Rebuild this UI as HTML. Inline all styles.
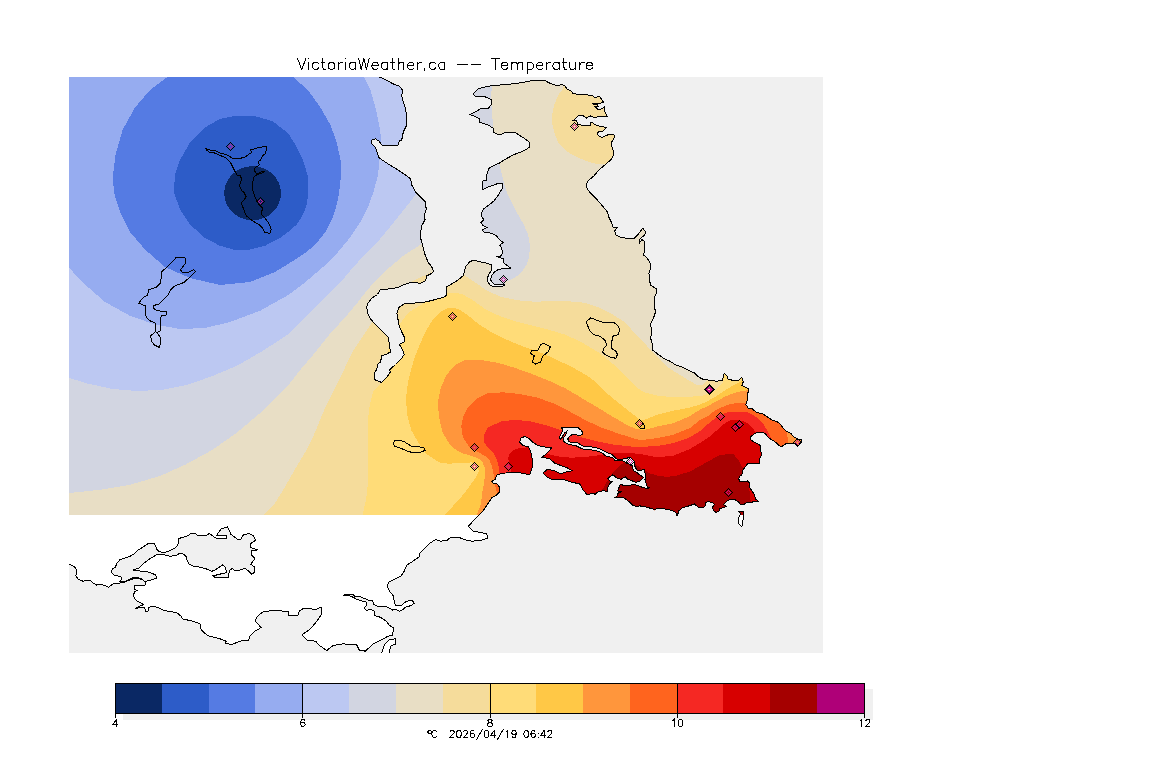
<!DOCTYPE html><html><head><meta charset="utf-8"><title>VictoriaWeather.ca Temperature</title>
<style>html,body{margin:0;padding:0;background:#fff}body{width:1152px;height:768px;overflow:hidden;font-family:"Liberation Sans",sans-serif}svg{display:block}text{font-family:"Liberation Sans",sans-serif;fill:#000}</style></head><body>
<svg width="1152" height="768" viewBox="0 0 1152 768" shape-rendering="crispEdges">
<defs>
<clipPath id="land"><polygon points="69.0,77.0 379.2,77.0 385.5,79.5 393.0,83.8 399.2,86.2 402.5,90.0 401.8,96.2 403.5,102.5 405.5,108.8 406.8,117.5 406.8,125.0 404.2,130.0 402.5,135.0 401.8,140.0 399.2,141.2 398.0,145.0 381.8,145.0 379.2,141.2 375.5,138.8 371.8,140.0 371.8,143.8 375.5,147.5 377.5,153.8 379.2,158.0 388.0,163.8 398.0,170.0 405.5,175.0 410.5,178.8 411.8,185.0 415.5,192.0 420.5,197.0 425.5,202.0 426.2,209.5 424.2,215.8 425.0,219.5 421.8,225.8 420.5,233.2 421.0,239.5 423.0,247.0 425.0,254.5 428.0,262.0 431.8,267.0 433.5,271.5 430.5,274.0 426.8,275.8 425.5,280.8 420.5,283.2 410.5,282.5 403.0,285.0 398.0,287.5 388.0,289.0 380.0,290.0 377.5,294.5 371.8,298.2 368.0,303.2 366.8,307.0 367.5,313.2 370.0,318.2 374.2,323.2 379.2,328.2 384.2,333.2 388.0,337.0 389.2,343.2 390.5,352.0 386.8,354.0 381.8,355.8 380.5,362.0 377.5,364.5 376.8,369.5 374.2,373.2 374.2,379.5 381.8,382.5 386.8,377.0 390.5,372.0 389.2,370.0 395.5,364.5 401.8,358.2 404.2,354.5 401.8,348.2 399.2,344.5 404.2,342.0 404.2,337.0 401.8,332.0 399.2,325.8 398.0,319.5 396.8,313.2 399.2,307.0 404.2,304.0 413.0,303.2 425.5,302.0 435.5,299.5 444.2,297.0 446.8,295.0 446.0,287.0 453.0,283.2 458.0,280.0 463.0,275.8 464.0,273.3 465.7,266.7 469.8,261.7 474.0,260.0 480.7,262.0 487.3,263.3 491.5,265.0 492.0,269.2 489.0,274.2 487.3,278.3 488.2,282.5 490.7,285.8 497.3,287.0 504.0,285.8 504.0,284.2 499.8,284.7 494.0,284.2 490.7,280.0 491.5,275.8 494.8,271.7 499.0,269.2 504.0,268.7 510.7,268.0 506.5,265.0 503.2,262.5 504.0,259.2 497.3,256.7 501.5,255.8 502.7,252.5 501.5,248.3 499.8,245.0 503.2,242.5 499.8,240.0 496.5,235.8 491.5,233.3 484.0,232.0 482.3,230.0 487.3,227.5 483.2,225.8 480.7,222.5 484.0,220.0 482.3,217.5 481.0,214.2 483.2,209.2 489.0,205.0 494.0,200.8 499.0,194.2 502.7,187.5 502.7,183.3 497.3,183.7 489.0,186.7 482.3,190.0 482.3,181.3 486.5,180.0 486.5,175.0 489.0,168.3 493.2,165.8 499.0,163.3 504.0,160.0 513.0,155.0 523.0,151.2 529.2,147.5 529.2,142.0 523.0,137.5 514.2,132.0 505.5,132.5 499.2,135.0 493.5,132.5 493.0,128.0 488.0,125.0 480.0,122.5 479.2,118.8 474.2,116.2 470.0,114.5 474.2,112.5 480.5,108.8 488.0,108.8 491.0,105.0 491.8,100.0 485.5,97.0 475.5,96.2 473.0,94.0 478.0,88.8 488.0,86.2 500.5,85.0 513.0,83.8 523.0,82.5 531.8,80.5 545.5,80.5 548.3,82.5 553.3,84.6 558.0,86.0 561.7,84.0 565.0,86.2 567.5,89.6 570.8,90.4 573.3,93.8 579.2,94.2 585.8,94.8 592.5,95.4 594.6,97.9 599.2,96.0 601.7,99.6 603.8,102.5 600.0,103.3 592.5,103.8 597.5,105.0 598.3,106.2 595.0,106.7 598.3,110.0 601.7,108.8 604.6,107.0 604.8,111.7 607.5,116.7 602.5,116.7 597.5,117.0 593.3,117.3 590.0,115.8 586.7,118.2 583.3,115.8 578.3,115.8 575.0,118.8 573.3,120.4 576.7,120.8 577.9,124.2 580.8,125.0 583.3,125.8 590.0,125.8 590.8,122.5 592.9,122.5 594.2,124.6 598.3,125.8 606.7,127.5 604.2,130.0 602.5,131.2 598.3,132.0 597.5,133.3 598.3,135.8 601.7,137.5 605.8,135.8 609.2,134.3 613.8,134.6 614.6,137.5 612.5,140.4 611.0,143.8 613.0,150.0 613.5,155.0 610.7,160.0 605.7,164.2 599.0,170.0 594.0,175.8 588.2,180.8 586.0,185.0 587.3,189.2 592.3,195.0 597.3,200.0 602.3,205.8 607.3,211.7 609.0,217.5 611.5,222.5 613.2,227.5 617.3,227.5 614.8,230.8 615.7,235.0 620.7,237.5 627.3,238.3 634.0,238.3 639.0,233.3 642.7,228.3 645.7,231.7 644.8,235.0 641.5,237.5 639.0,240.0 639.3,243.3 642.0,239.5 644.8,241.7 644.8,246.7 643.7,255.0 647.3,258.3 650.3,263.3 650.7,268.3 649.0,273.3 649.3,280.0 650.8,285.3 656.3,288.7 656.3,293.7 654.7,297.0 654.2,305.3 655.5,312.0 653.3,318.7 650.8,323.7 651.3,332.0 650.8,338.7 652.5,345.3 653.0,350.3 658.3,354.5 664.2,358.7 670.0,361.2 675.0,364.5 681.7,367.0 688.3,370.3 694.2,372.8 698.3,376.7 703.3,379.5 710.0,380.3 716.7,381.2 722.5,380.3 724.2,373.7 726.7,375.3 728.3,379.5 733.3,380.3 739.2,380.0 741.7,377.3 743.3,382.0 741.7,385.3 745.0,387.2 748.3,388.4 748.3,392.3 747.0,394.0 747.2,399.0 746.8,402.5 745.6,404.6 747.2,406.5 748.0,408.2 752.2,408.4 753.4,410.2 756.7,412.3 763.3,414.0 766.7,416.5 771.7,419.8 776.7,421.5 780.0,424.0 783.3,428.2 786.7,431.5 790.8,433.2 793.3,436.5 797.5,439.0 800.8,439.0 801.7,441.5 798.3,445.7 795.8,444.0 790.0,443.2 786.7,443.2 781.7,446.5 779.2,445.7 775.8,442.3 771.7,439.8 768.3,437.3 765.0,433.2 760.0,432.3 755.0,433.2 750.8,436.5 750.0,439.0 753.3,441.5 756.7,443.2 760.8,445.7 760.0,449.0 761.7,454.0 760.0,458.2 759.2,463.2 753.3,463.7 748.3,463.2 747.5,464.0 745.6,466.5 743.1,469.6 741.9,474.6 739.4,476.5 738.8,479.0 740.0,481.5 743.8,481.5 747.5,480.9 749.4,482.8 750.0,487.8 751.9,490.9 754.4,494.6 755.6,499.0 758.1,501.2 753.8,501.5 750.0,503.0 746.2,502.8 743.8,504.6 740.0,504.0 738.8,502.1 735.0,499.6 729.4,499.6 726.2,501.5 723.8,504.6 726.2,506.5 723.1,507.8 719.4,508.4 718.8,511.8 715.6,512.1 713.8,510.9 712.5,507.1 714.4,504.6 712.5,502.8 708.1,501.5 705.6,502.8 705.0,506.5 701.2,508.0 698.1,507.1 694.4,504.0 688.8,505.9 682.5,507.8 678.8,510.9 678.1,513.4 676.9,515.9 675.6,512.1 671.2,510.2 665.0,509.0 656.2,508.4 655.0,510.2 652.5,508.8 646.2,507.1 640.0,505.9 636.2,506.3 632.8,505.5 630.3,502.6 627.0,500.0 623.7,498.0 619.5,497.2 614.5,497.6 617.0,496.3 617.8,493.4 620.8,491.8 617.4,490.9 618.7,488.8 619.5,485.5 621.2,484.2 623.7,485.9 628.7,485.5 632.8,484.7 635.3,484.7 638.7,485.9 642.0,487.2 645.3,488.2 649.5,488.0 647.4,487.2 646.2,483.8 645.0,479.7 645.3,476.8 645.0,473.0 644.5,469.5 642.0,470.0 637.0,470.0 635.3,467.2 634.0,463.8 634.5,461.3 632.3,459.3 630.2,457.2 627.3,458.1 624.0,458.9 621.5,459.3 618.2,459.3 615.7,458.5 613.6,456.0 611.5,454.3 607.3,452.7 604.0,451.0 600.7,449.3 595.7,447.7 590.7,446.8 584.0,446.8 580.7,444.8 577.3,442.7 572.3,442.7 569.0,441.8 567.8,438.9 569.8,436.0 572.3,434.5 579.0,435.2 582.3,434.8 582.3,431.8 580.7,429.8 577.3,427.2 561.9,427.7 562.3,430.6 561.5,433.5 559.8,436.0 559.4,438.1 560.2,439.3 561.9,437.7 563.2,435.2 564.8,432.7 566.9,431.4 565.7,434.8 563.6,437.7 563.2,440.2 564.4,442.2 568.2,444.3 572.3,445.1 576.5,446.0 580.7,448.1 584.8,449.7 590.7,449.7 595.7,450.6 599.8,451.8 603.2,453.5 604.8,455.6 609.0,456.8 613.2,458.1 614.8,460.1 617.3,460.2 621.5,460.2 624.0,461.4 627.3,463.5 630.7,464.8 632.0,465.5 632.8,468.4 633.7,470.9 637.0,472.6 639.5,474.7 642.0,476.3 643.7,477.6 641.2,479.7 639.5,481.8 635.3,482.2 631.2,480.5 627.0,478.8 625.3,476.8 621.2,479.2 617.8,478.8 615.3,476.8 612.8,474.7 609.9,476.8 607.8,478.8 609.9,480.9 612.4,481.8 610.3,483.0 608.2,485.9 607.8,488.8 607.0,491.8 603.7,490.5 601.2,491.3 597.0,492.2 595.3,494.2 592.0,493.4 587.2,494.8 583.0,489.8 579.7,484.0 571.3,482.0 564.7,479.8 558.0,479.0 551.3,479.3 546.3,476.5 543.0,473.2 547.2,469.3 554.7,470.7 561.3,474.0 564.7,472.3 572.2,470.7 568.0,468.2 561.3,465.7 554.7,463.2 549.7,458.7 542.2,457.3 548.0,452.3 552.2,447.0 544.7,447.0 538.0,445.7 533.0,442.3 528.8,438.2 524.7,436.5 520.5,438.2 519.7,442.3 523.0,445.7 528.0,446.5 530.5,450.7 532.2,459.0 533.0,465.7 531.0,470.7 529.7,474.8 523.0,473.2 514.7,472.3 503.0,473.2 496.3,475.3 495.5,479.0 491.7,481.5 493.0,483.2 497.2,484.0 499.7,487.3 499.3,492.3 496.3,495.3 492.2,497.3 488.8,502.3 485.5,507.3 482.2,512.0 479.2,515.0 473.0,521.2 468.5,526.2 473.0,531.2 480.5,532.5 486.8,533.8 487.5,538.0 480.5,540.5 471.8,541.2 465.5,540.0 460.5,538.0 450.5,537.5 446.8,540.5 440.5,541.2 435.5,539.5 429.2,543.8 424.2,548.8 419.2,553.8 420.0,556.2 413.0,561.2 406.8,565.0 404.2,571.2 401.0,576.0 389.3,581.8 387.2,586.0 389.3,591.0 393.5,596.0 394.3,602.7 396.0,605.6 401.8,605.2 406.0,601.4 411.8,600.2 414.3,603.1 411.0,605.6 405.2,607.2 403.5,609.3 399.3,611.4 396.0,609.3 392.7,610.2 389.3,608.1 386.0,606.4 377.7,606.4 373.5,604.3 372.7,600.6 369.3,600.6 363.5,598.1 359.3,596.4 354.3,596.0 353.1,594.3 345.2,594.3 344.3,595.3 351.0,596.2 356.8,599.3 361.8,601.0 366.4,602.2 366.7,605.6 364.3,607.7 366.0,610.2 370.2,609.8 373.9,610.2 374.8,615.6 380.2,617.2 386.0,621.0 389.3,625.2 393.5,628.1 392.7,635.2 387.7,636.4 381.4,639.8 373.0,643.8 365.5,651.2 359.2,650.0 356.8,645.0 343.0,643.8 333.0,645.5 326.8,650.5 320.5,646.2 315.5,641.2 306.8,640.0 301.8,635.0 310.5,628.8 316.8,621.2 321.8,613.8 321.8,607.0 315.5,609.5 304.2,608.0 299.2,611.2 298.0,615.0 288.0,615.0 288.0,611.2 275.0,610.8 263.8,611.2 257.5,616.2 255.0,621.2 261.2,627.5 255.0,631.2 250.0,636.2 248.8,640.0 240.0,641.2 232.5,644.2 225.0,643.8 226.2,641.2 220.0,638.8 207.5,635.5 201.2,630.0 200.0,623.8 192.5,621.2 182.5,618.8 180.9,616.0 176.5,612.5 170.2,611.5 164.0,610.6 159.0,608.1 155.2,606.5 152.1,606.2 149.0,607.5 148.0,611.2 145.9,611.2 144.6,607.8 140.2,607.5 135.5,608.5 139.0,606.2 143.4,604.8 141.5,603.1 137.1,601.2 134.6,598.8 133.4,595.0 134.6,591.9 137.1,590.6 134.6,589.4 134.6,585.6 139.0,585.2 145.2,585.0 145.9,583.1 144.6,581.9 142.8,579.4 138.4,577.8 132.1,577.8 129.0,579.4 124.0,582.5 119.0,583.1 113.4,583.5 110.9,585.6 108.4,587.2 102.8,584.8 99.6,584.1 96.5,585.0 93.4,583.1 90.2,580.5 87.1,580.2 82.8,581.2 77.8,578.8 75.9,575.6 76.5,571.2 75.9,568.1 72.8,565.6 69.0,564.0 69.0,564.0"/><polygon points="738.8,511.5 743.1,511.5 743.5,515.2 742.8,521.5 741.9,526.5 739.4,524.6 738.1,522.1 738.8,517.8 740.6,514.0"/></clipPath>
<clipPath id="dom"><rect x="69" y="77" width="754" height="438"/></clipPath>
<clipPath id="map"><rect x="69" y="77" width="754" height="576"/></clipPath>
</defs>
<rect x="0" y="0" width="1152" height="768" fill="#fff"/>
<rect x="69" y="77" width="754" height="576" fill="#f0f0f0"/>
<g clip-path="url(#map)">
<polygon points="69.0,77.0 379.2,77.0 385.5,79.5 393.0,83.8 399.2,86.2 402.5,90.0 401.8,96.2 403.5,102.5 405.5,108.8 406.8,117.5 406.8,125.0 404.2,130.0 402.5,135.0 401.8,140.0 399.2,141.2 398.0,145.0 381.8,145.0 379.2,141.2 375.5,138.8 371.8,140.0 371.8,143.8 375.5,147.5 377.5,153.8 379.2,158.0 388.0,163.8 398.0,170.0 405.5,175.0 410.5,178.8 411.8,185.0 415.5,192.0 420.5,197.0 425.5,202.0 426.2,209.5 424.2,215.8 425.0,219.5 421.8,225.8 420.5,233.2 421.0,239.5 423.0,247.0 425.0,254.5 428.0,262.0 431.8,267.0 433.5,271.5 430.5,274.0 426.8,275.8 425.5,280.8 420.5,283.2 410.5,282.5 403.0,285.0 398.0,287.5 388.0,289.0 380.0,290.0 377.5,294.5 371.8,298.2 368.0,303.2 366.8,307.0 367.5,313.2 370.0,318.2 374.2,323.2 379.2,328.2 384.2,333.2 388.0,337.0 389.2,343.2 390.5,352.0 386.8,354.0 381.8,355.8 380.5,362.0 377.5,364.5 376.8,369.5 374.2,373.2 374.2,379.5 381.8,382.5 386.8,377.0 390.5,372.0 389.2,370.0 395.5,364.5 401.8,358.2 404.2,354.5 401.8,348.2 399.2,344.5 404.2,342.0 404.2,337.0 401.8,332.0 399.2,325.8 398.0,319.5 396.8,313.2 399.2,307.0 404.2,304.0 413.0,303.2 425.5,302.0 435.5,299.5 444.2,297.0 446.8,295.0 446.0,287.0 453.0,283.2 458.0,280.0 463.0,275.8 464.0,273.3 465.7,266.7 469.8,261.7 474.0,260.0 480.7,262.0 487.3,263.3 491.5,265.0 492.0,269.2 489.0,274.2 487.3,278.3 488.2,282.5 490.7,285.8 497.3,287.0 504.0,285.8 504.0,284.2 499.8,284.7 494.0,284.2 490.7,280.0 491.5,275.8 494.8,271.7 499.0,269.2 504.0,268.7 510.7,268.0 506.5,265.0 503.2,262.5 504.0,259.2 497.3,256.7 501.5,255.8 502.7,252.5 501.5,248.3 499.8,245.0 503.2,242.5 499.8,240.0 496.5,235.8 491.5,233.3 484.0,232.0 482.3,230.0 487.3,227.5 483.2,225.8 480.7,222.5 484.0,220.0 482.3,217.5 481.0,214.2 483.2,209.2 489.0,205.0 494.0,200.8 499.0,194.2 502.7,187.5 502.7,183.3 497.3,183.7 489.0,186.7 482.3,190.0 482.3,181.3 486.5,180.0 486.5,175.0 489.0,168.3 493.2,165.8 499.0,163.3 504.0,160.0 513.0,155.0 523.0,151.2 529.2,147.5 529.2,142.0 523.0,137.5 514.2,132.0 505.5,132.5 499.2,135.0 493.5,132.5 493.0,128.0 488.0,125.0 480.0,122.5 479.2,118.8 474.2,116.2 470.0,114.5 474.2,112.5 480.5,108.8 488.0,108.8 491.0,105.0 491.8,100.0 485.5,97.0 475.5,96.2 473.0,94.0 478.0,88.8 488.0,86.2 500.5,85.0 513.0,83.8 523.0,82.5 531.8,80.5 545.5,80.5 548.3,82.5 553.3,84.6 558.0,86.0 561.7,84.0 565.0,86.2 567.5,89.6 570.8,90.4 573.3,93.8 579.2,94.2 585.8,94.8 592.5,95.4 594.6,97.9 599.2,96.0 601.7,99.6 603.8,102.5 600.0,103.3 592.5,103.8 597.5,105.0 598.3,106.2 595.0,106.7 598.3,110.0 601.7,108.8 604.6,107.0 604.8,111.7 607.5,116.7 602.5,116.7 597.5,117.0 593.3,117.3 590.0,115.8 586.7,118.2 583.3,115.8 578.3,115.8 575.0,118.8 573.3,120.4 576.7,120.8 577.9,124.2 580.8,125.0 583.3,125.8 590.0,125.8 590.8,122.5 592.9,122.5 594.2,124.6 598.3,125.8 606.7,127.5 604.2,130.0 602.5,131.2 598.3,132.0 597.5,133.3 598.3,135.8 601.7,137.5 605.8,135.8 609.2,134.3 613.8,134.6 614.6,137.5 612.5,140.4 611.0,143.8 613.0,150.0 613.5,155.0 610.7,160.0 605.7,164.2 599.0,170.0 594.0,175.8 588.2,180.8 586.0,185.0 587.3,189.2 592.3,195.0 597.3,200.0 602.3,205.8 607.3,211.7 609.0,217.5 611.5,222.5 613.2,227.5 617.3,227.5 614.8,230.8 615.7,235.0 620.7,237.5 627.3,238.3 634.0,238.3 639.0,233.3 642.7,228.3 645.7,231.7 644.8,235.0 641.5,237.5 639.0,240.0 639.3,243.3 642.0,239.5 644.8,241.7 644.8,246.7 643.7,255.0 647.3,258.3 650.3,263.3 650.7,268.3 649.0,273.3 649.3,280.0 650.8,285.3 656.3,288.7 656.3,293.7 654.7,297.0 654.2,305.3 655.5,312.0 653.3,318.7 650.8,323.7 651.3,332.0 650.8,338.7 652.5,345.3 653.0,350.3 658.3,354.5 664.2,358.7 670.0,361.2 675.0,364.5 681.7,367.0 688.3,370.3 694.2,372.8 698.3,376.7 703.3,379.5 710.0,380.3 716.7,381.2 722.5,380.3 724.2,373.7 726.7,375.3 728.3,379.5 733.3,380.3 739.2,380.0 741.7,377.3 743.3,382.0 741.7,385.3 745.0,387.2 748.3,388.4 748.3,392.3 747.0,394.0 747.2,399.0 746.8,402.5 745.6,404.6 747.2,406.5 748.0,408.2 752.2,408.4 753.4,410.2 756.7,412.3 763.3,414.0 766.7,416.5 771.7,419.8 776.7,421.5 780.0,424.0 783.3,428.2 786.7,431.5 790.8,433.2 793.3,436.5 797.5,439.0 800.8,439.0 801.7,441.5 798.3,445.7 795.8,444.0 790.0,443.2 786.7,443.2 781.7,446.5 779.2,445.7 775.8,442.3 771.7,439.8 768.3,437.3 765.0,433.2 760.0,432.3 755.0,433.2 750.8,436.5 750.0,439.0 753.3,441.5 756.7,443.2 760.8,445.7 760.0,449.0 761.7,454.0 760.0,458.2 759.2,463.2 753.3,463.7 748.3,463.2 747.5,464.0 745.6,466.5 743.1,469.6 741.9,474.6 739.4,476.5 738.8,479.0 740.0,481.5 743.8,481.5 747.5,480.9 749.4,482.8 750.0,487.8 751.9,490.9 754.4,494.6 755.6,499.0 758.1,501.2 753.8,501.5 750.0,503.0 746.2,502.8 743.8,504.6 740.0,504.0 738.8,502.1 735.0,499.6 729.4,499.6 726.2,501.5 723.8,504.6 726.2,506.5 723.1,507.8 719.4,508.4 718.8,511.8 715.6,512.1 713.8,510.9 712.5,507.1 714.4,504.6 712.5,502.8 708.1,501.5 705.6,502.8 705.0,506.5 701.2,508.0 698.1,507.1 694.4,504.0 688.8,505.9 682.5,507.8 678.8,510.9 678.1,513.4 676.9,515.9 675.6,512.1 671.2,510.2 665.0,509.0 656.2,508.4 655.0,510.2 652.5,508.8 646.2,507.1 640.0,505.9 636.2,506.3 632.8,505.5 630.3,502.6 627.0,500.0 623.7,498.0 619.5,497.2 614.5,497.6 617.0,496.3 617.8,493.4 620.8,491.8 617.4,490.9 618.7,488.8 619.5,485.5 621.2,484.2 623.7,485.9 628.7,485.5 632.8,484.7 635.3,484.7 638.7,485.9 642.0,487.2 645.3,488.2 649.5,488.0 647.4,487.2 646.2,483.8 645.0,479.7 645.3,476.8 645.0,473.0 644.5,469.5 642.0,470.0 637.0,470.0 635.3,467.2 634.0,463.8 634.5,461.3 632.3,459.3 630.2,457.2 627.3,458.1 624.0,458.9 621.5,459.3 618.2,459.3 615.7,458.5 613.6,456.0 611.5,454.3 607.3,452.7 604.0,451.0 600.7,449.3 595.7,447.7 590.7,446.8 584.0,446.8 580.7,444.8 577.3,442.7 572.3,442.7 569.0,441.8 567.8,438.9 569.8,436.0 572.3,434.5 579.0,435.2 582.3,434.8 582.3,431.8 580.7,429.8 577.3,427.2 561.9,427.7 562.3,430.6 561.5,433.5 559.8,436.0 559.4,438.1 560.2,439.3 561.9,437.7 563.2,435.2 564.8,432.7 566.9,431.4 565.7,434.8 563.6,437.7 563.2,440.2 564.4,442.2 568.2,444.3 572.3,445.1 576.5,446.0 580.7,448.1 584.8,449.7 590.7,449.7 595.7,450.6 599.8,451.8 603.2,453.5 604.8,455.6 609.0,456.8 613.2,458.1 614.8,460.1 617.3,460.2 621.5,460.2 624.0,461.4 627.3,463.5 630.7,464.8 632.0,465.5 632.8,468.4 633.7,470.9 637.0,472.6 639.5,474.7 642.0,476.3 643.7,477.6 641.2,479.7 639.5,481.8 635.3,482.2 631.2,480.5 627.0,478.8 625.3,476.8 621.2,479.2 617.8,478.8 615.3,476.8 612.8,474.7 609.9,476.8 607.8,478.8 609.9,480.9 612.4,481.8 610.3,483.0 608.2,485.9 607.8,488.8 607.0,491.8 603.7,490.5 601.2,491.3 597.0,492.2 595.3,494.2 592.0,493.4 587.2,494.8 583.0,489.8 579.7,484.0 571.3,482.0 564.7,479.8 558.0,479.0 551.3,479.3 546.3,476.5 543.0,473.2 547.2,469.3 554.7,470.7 561.3,474.0 564.7,472.3 572.2,470.7 568.0,468.2 561.3,465.7 554.7,463.2 549.7,458.7 542.2,457.3 548.0,452.3 552.2,447.0 544.7,447.0 538.0,445.7 533.0,442.3 528.8,438.2 524.7,436.5 520.5,438.2 519.7,442.3 523.0,445.7 528.0,446.5 530.5,450.7 532.2,459.0 533.0,465.7 531.0,470.7 529.7,474.8 523.0,473.2 514.7,472.3 503.0,473.2 496.3,475.3 495.5,479.0 491.7,481.5 493.0,483.2 497.2,484.0 499.7,487.3 499.3,492.3 496.3,495.3 492.2,497.3 488.8,502.3 485.5,507.3 482.2,512.0 479.2,515.0 473.0,521.2 468.5,526.2 473.0,531.2 480.5,532.5 486.8,533.8 487.5,538.0 480.5,540.5 471.8,541.2 465.5,540.0 460.5,538.0 450.5,537.5 446.8,540.5 440.5,541.2 435.5,539.5 429.2,543.8 424.2,548.8 419.2,553.8 420.0,556.2 413.0,561.2 406.8,565.0 404.2,571.2 401.0,576.0 389.3,581.8 387.2,586.0 389.3,591.0 393.5,596.0 394.3,602.7 396.0,605.6 401.8,605.2 406.0,601.4 411.8,600.2 414.3,603.1 411.0,605.6 405.2,607.2 403.5,609.3 399.3,611.4 396.0,609.3 392.7,610.2 389.3,608.1 386.0,606.4 377.7,606.4 373.5,604.3 372.7,600.6 369.3,600.6 363.5,598.1 359.3,596.4 354.3,596.0 353.1,594.3 345.2,594.3 344.3,595.3 351.0,596.2 356.8,599.3 361.8,601.0 366.4,602.2 366.7,605.6 364.3,607.7 366.0,610.2 370.2,609.8 373.9,610.2 374.8,615.6 380.2,617.2 386.0,621.0 389.3,625.2 393.5,628.1 392.7,635.2 387.7,636.4 381.4,639.8 373.0,643.8 365.5,651.2 359.2,650.0 356.8,645.0 343.0,643.8 333.0,645.5 326.8,650.5 320.5,646.2 315.5,641.2 306.8,640.0 301.8,635.0 310.5,628.8 316.8,621.2 321.8,613.8 321.8,607.0 315.5,609.5 304.2,608.0 299.2,611.2 298.0,615.0 288.0,615.0 288.0,611.2 275.0,610.8 263.8,611.2 257.5,616.2 255.0,621.2 261.2,627.5 255.0,631.2 250.0,636.2 248.8,640.0 240.0,641.2 232.5,644.2 225.0,643.8 226.2,641.2 220.0,638.8 207.5,635.5 201.2,630.0 200.0,623.8 192.5,621.2 182.5,618.8 180.9,616.0 176.5,612.5 170.2,611.5 164.0,610.6 159.0,608.1 155.2,606.5 152.1,606.2 149.0,607.5 148.0,611.2 145.9,611.2 144.6,607.8 140.2,607.5 135.5,608.5 139.0,606.2 143.4,604.8 141.5,603.1 137.1,601.2 134.6,598.8 133.4,595.0 134.6,591.9 137.1,590.6 134.6,589.4 134.6,585.6 139.0,585.2 145.2,585.0 145.9,583.1 144.6,581.9 142.8,579.4 138.4,577.8 132.1,577.8 129.0,579.4 124.0,582.5 119.0,583.1 113.4,583.5 110.9,585.6 108.4,587.2 102.8,584.8 99.6,584.1 96.5,585.0 93.4,583.1 90.2,580.5 87.1,580.2 82.8,581.2 77.8,578.8 75.9,575.6 76.5,571.2 75.9,568.1 72.8,565.6 69.0,564.0 69.0,564.0" fill="#fff" />
<polygon points="738.8,511.5 743.1,511.5 743.5,515.2 742.8,521.5 741.9,526.5 739.4,524.6 738.1,522.1 738.8,517.8 740.6,514.0" fill="#fff" />
<polygon points="381.8,653.0 384.2,645.0 389.2,640.0 395.5,638.8 396.0,643.8 390.5,646.2 389.2,653.0" fill="#fff" />
<g clip-path="url(#dom)"><g clip-path="url(#land)">
<rect x="69" y="77" width="754" height="438" fill="#e8dec5"/>
<polygon points="60.0,60.0 60.0,493.0 69.2,493.0 100.0,489.8 130.0,484.8 160.0,476.0 185.0,464.8 212.5,449.8 237.5,432.2 262.5,411.0 288.0,385.5 301.3,368.7 315.5,352.0 329.0,335.0 342.7,320.0 348.5,313.5 356.8,303.5 365.2,292.7 374.3,281.8 384.3,271.8 394.3,263.5 403.0,256.0 413.0,249.5 422.5,243.5 440.0,246.0 470.0,250.0 495.0,256.0 500.0,262.0 498.0,267.0 493.5,270.0 490.5,274.0 489.2,278.0 491.0,283.0 497.0,285.8 504.5,284.9 505.7,281.7 512.3,279.2 520.7,273.3 526.5,265.0 529.3,256.7 529.8,245.0 528.2,235.0 524.0,225.0 517.3,213.3 512.3,203.3 507.3,193.3 504.0,183.3 501.5,173.3 499.0,163.3 496.0,150.0 493.0,125.0 491.8,110.0 491.0,100.0 491.8,86.2 492.0,60.0" fill="#d2d5e1" />
<polygon points="60.0,60.0 60.0,378.0 69.2,378.0 87.5,383.5 112.5,389.0 137.5,391.0 162.5,389.8 187.5,384.8 212.5,376.0 237.5,365.5 262.5,351.0 288.0,334.5 305.5,317.0 325.5,297.0 343.0,279.5 352.7,267.7 363.7,256.0 375.5,244.5 388.0,229.5 398.0,217.0 408.0,204.5 416.8,193.2 428.0,180.0 438.0,150.0 442.0,120.0 444.0,60.0" fill="#bcc8f2" />
<polygon points="60.0,60.0 60.0,259.0 69.2,268.0 85.0,284.5 105.0,302.0 130.0,315.8 155.0,324.5 180.0,329.0 205.0,328.0 230.0,322.0 260.0,310.8 288.0,295.2 305.5,282.0 323.0,267.0 338.0,252.0 350.5,237.0 360.5,222.0 368.0,207.0 373.5,192.0 378.0,175.0 379.5,160.0 381.0,137.5 379.2,125.0 375.5,107.5 370.5,90.0 364.2,77.0 361.0,60.0" fill="#96acf0" />
<polygon points="179.0,60.0 167.5,77.0 150.0,90.0 135.0,107.5 122.5,130.0 115.5,155.0 113.0,175.0 113.8,192.0 120.0,212.0 130.0,232.0 145.0,249.5 165.0,267.0 190.0,278.0 220.0,285.0 250.0,282.0 275.0,272.0 288.0,264.0 303.0,254.5 315.5,244.5 325.5,232.0 333.0,217.0 336.8,204.5 339.2,192.0 341.0,175.0 340.5,160.0 336.8,142.5 330.5,125.0 320.5,107.5 308.0,90.0 293.0,77.0 278.0,60.0" fill="#557be3" />
<polygon points="237.5,115.5 220.0,118.8 205.0,127.5 190.0,142.5 180.0,160.0 175.0,175.0 173.8,192.0 180.0,209.5 190.0,224.5 205.0,238.0 220.0,245.8 235.0,250.0 250.0,249.5 265.0,245.8 280.0,238.0 288.0,232.0 296.8,224.5 303.0,214.5 306.8,204.5 308.5,192.0 307.5,175.0 303.0,160.0 295.5,145.0 288.0,133.0 272.5,121.2 255.0,116.2" fill="#2d5cc8" />
<ellipse cx="252.6" cy="193.2" rx="28.4" ry="27.0" fill="#0a2864"/>
<polygon points="263.8,520.0 263.8,514.8 275.0,503.0 283.3,489.7 290.0,478.0 296.7,466.3 306.7,449.7 313.3,436.3 324.7,408.7 333.0,392.0 343.0,372.0 346.8,363.3 352.7,351.7 361.0,339.2 367.7,329.2 372.7,321.7 385.0,305.0 402.7,286.0 412.7,281.0 423.5,276.0 432.0,272.2 448.0,271.0 464.7,275.3 474.7,282.0 486.3,290.3 501.3,297.0 518.0,300.3 534.7,301.7 551.3,301.2 568.0,301.2 584.7,302.8 598.0,307.0 611.3,313.7 624.7,322.0 633.7,332.0 640.3,338.7 648.7,347.8 657.0,357.0 665.3,365.3 673.7,371.2 682.0,376.2 690.3,381.2 697.0,384.9 702.8,385.3 705.3,382.0 707.0,380.8 708.0,379.0 708.0,365.0 830.0,365.0 830.0,520.0" fill="#f5dc9b" />
<polygon points="566.0,78.0 563.3,88.3 558.3,95.0 554.2,105.0 552.0,115.0 552.5,125.0 555.0,135.0 559.0,144.0 565.0,150.0 572.0,154.5 580.0,158.5 590.0,162.3 599.0,164.5 607.0,163.5 630.0,150.0 630.0,78.0" fill="#f5dc9b" />
<polygon points="362.5,520.0 362.5,515.0 366.0,500.0 368.3,480.0 368.0,452.0 367.7,435.3 368.0,418.7 369.7,405.3 373.0,392.0 381.3,382.8 384.0,365.0 389.0,347.0 397.7,325.8 400.2,323.3 405.2,316.7 411.0,311.0 419.3,306.0 427.7,301.0 437.0,296.0 448.0,292.5 461.3,293.7 473.0,300.3 484.7,308.7 498.0,315.3 514.7,321.2 531.3,325.3 548.0,329.5 564.7,334.5 581.3,342.0 598.0,352.0 614.7,365.3 628.0,378.7 636.0,387.0 643.3,392.0 660.0,396.2 676.7,397.0 693.3,396.5 700.0,396.2 706.2,394.6 712.5,392.1 717.5,388.3 721.7,384.2 723.3,381.7 721.0,365.0 830.0,365.0 830.0,520.0" fill="#ffdc78" />
<polygon points="445.0,520.0 445.0,514.5 453.0,506.0 462.0,496.0 465.3,492.0 469.5,486.2 473.7,480.3 477.0,475.3 478.7,471.2 478.2,467.0 475.3,463.7 471.2,462.4 465.3,462.8 457.0,463.2 448.7,463.7 440.3,462.8 432.0,457.8 426.3,453.7 418.0,442.0 411.3,430.3 407.2,415.3 406.0,398.7 408.0,382.0 411.5,368.0 414.5,358.0 416.8,351.7 421.0,341.7 426.0,330.8 432.0,320.8 440.0,312.0 448.0,307.8 458.0,308.7 468.0,315.3 478.0,323.7 491.3,332.0 508.0,340.3 524.7,347.0 541.3,352.8 558.0,360.3 574.7,368.5 587.8,376.0 595.3,381.8 603.7,390.2 612.0,397.7 620.3,404.3 628.7,411.0 635.3,416.0 639.5,419.5 643.7,420.2 648.0,418.5 656.7,414.8 673.3,410.7 690.0,407.5 700.0,404.6 708.3,400.8 716.7,395.8 725.0,390.4 733.3,385.4 741.7,381.2 745.0,370.0 830.0,370.0 830.0,520.0" fill="#ffc846" />
<polygon points="476.8,520.0 476.8,515.0 480.5,505.0 482.0,496.0 482.4,492.0 483.7,485.3 484.5,478.7 484.9,472.0 484.5,467.0 482.8,462.8 479.5,459.5 474.5,457.0 467.8,454.9 461.2,452.8 454.5,448.7 448.7,442.8 445.3,437.0 442.4,432.0 440.5,424.0 438.8,415.3 438.0,402.0 440.5,388.7 446.3,375.3 454.7,365.3 464.7,360.3 481.3,360.0 498.0,362.8 514.7,367.8 531.3,373.7 548.0,380.3 564.7,388.0 577.0,395.2 585.3,400.2 593.7,405.2 602.0,410.2 610.3,415.2 618.7,420.2 627.0,425.2 635.3,428.5 642.0,429.8 648.0,429.3 656.7,426.5 673.3,423.2 690.0,416.0 700.0,409.6 708.3,405.8 716.7,401.2 725.0,396.7 733.3,393.3 741.7,391.2 746.7,390.4 830.0,390.0 830.0,520.0" fill="#ff963c" />
<polygon points="498.0,520.0 497.5,495.0 495.3,486.2 494.5,480.0 494.0,477.0 493.2,471.2 491.6,465.3 489.5,460.3 485.3,456.2 479.5,452.8 473.7,449.9 468.7,446.2 465.3,441.2 462.8,436.2 462.0,432.0 461.3,425.7 463.0,417.3 468.0,407.3 476.3,399.0 488.0,393.2 503.0,392.3 519.7,394.0 536.3,397.3 553.0,403.2 569.7,411.5 586.3,420.7 603.0,428.2 619.7,434.0 640.0,440.2 656.7,438.2 673.3,434.8 690.0,428.0 700.0,420.0 708.0,416.1 714.2,411.1 720.5,407.8 726.8,405.2 731.3,404.0 737.5,402.9 745.8,402.9 770.0,404.0 786.7,428.0 787.5,437.3 788.3,445.0 788.0,520.0" fill="#ff641e" />
<polygon points="500.0,520.0 499.0,472.8 498.7,467.0 497.0,460.3 494.5,454.5 491.2,450.3 487.0,446.2 484.0,442.0 483.7,437.0 485.3,432.0 487.5,428.0 491.3,425.7 501.3,421.5 514.7,419.8 531.3,421.5 548.0,425.7 564.7,431.5 581.3,437.3 598.0,441.5 614.7,444.8 631.3,446.5 640.0,447.0 656.7,446.0 673.3,443.2 690.0,437.3 700.0,431.0 708.0,424.0 712.2,420.7 716.3,417.3 722.6,414.0 728.0,412.3 737.2,412.1 747.6,412.3 751.8,414.4 756.7,417.3 763.3,424.0 768.3,432.3 771.7,439.8 772.0,520.0" fill="#f52823" />
<polygon points="511.5,520.0 511.2,471.2 510.3,467.0 508.7,462.0 508.2,457.8 509.5,453.7 513.7,449.9 520.3,447.8 528.0,447.4 537.0,449.5 544.0,452.7 552.3,455.2 560.7,456.8 570.7,457.7 581.5,457.2 594.0,456.0 602.3,454.8 610.7,453.5 617.3,452.7 627.3,452.7 640.0,454.0 656.7,457.3 673.3,455.7 690.0,449.0 700.0,443.0 710.5,436.0 716.3,430.7 722.6,425.2 726.8,421.9 730.5,420.0 737.2,420.0 745.5,421.9 749.7,424.8 753.8,429.8 756.0,433.2 768.0,445.0 768.0,520.0" fill="#d70000" />
<polygon points="600.0,520.0 601.0,491.0 602.8,488.8 607.0,481.3 612.8,473.0 618.7,466.3 623.7,463.0 635.3,463.8 642.0,469.0 650.3,473.5 658.7,476.0 667.0,476.8 675.3,476.0 690.0,471.5 706.7,462.3 720.0,454.8 733.3,454.0 738.3,459.8 742.5,467.3 746.0,476.0 748.3,484.0 750.0,494.0 750.8,503.0 751.0,520.0" fill="#a50000" />
</g></g>
<polygon points="142.8,579.4 139.0,578.8 134.0,578.5 130.2,579.8 125.2,581.5 121.5,581.2 119.6,581.2 121.5,579.4 120.9,576.9 117.8,576.0 114.0,575.0 112.1,573.1 111.5,571.2 112.8,568.8 115.2,567.2 117.1,563.1 119.6,560.0 122.8,558.5 126.5,557.8 130.2,556.2 134.0,553.8 137.8,550.0 141.5,548.1 145.2,545.6 148.4,543.5 151.5,543.1 154.6,544.0 155.9,546.2 156.5,548.8 158.4,551.0 161.5,552.2 165.2,552.2 169.0,551.0 172.8,549.4 175.9,547.2 178.0,544.4 178.4,540.6 179.0,538.5 182.1,537.5 186.5,536.5 189.0,534.8 191.5,533.1 194.6,533.1 197.8,535.6 201.5,536.0 208.0,534.8 209.2,533.3 212.5,535.8 215.8,538.0 226.7,538.0 226.7,535.3 216.7,535.3 220.8,529.2 227.5,527.0 229.2,530.0 230.8,534.2 237.5,539.2 240.8,539.2 243.3,535.0 249.2,533.3 253.3,535.8 255.8,540.0 250.0,544.2 250.8,547.5 257.5,550.0 251.7,550.8 251.7,555.0 255.0,558.3 250.8,564.2 254.2,566.7 254.2,572.5 251.7,574.2 248.3,570.8 245.0,568.3 240.0,570.0 235.0,570.8 232.5,568.3 229.2,570.8 228.7,577.5 215.0,577.5 213.3,575.8 226.7,572.5 225.0,566.7 222.5,565.0 215.0,570.0 211.7,571.3 208.0,569.4 199.0,566.9 192.8,566.0 189.0,563.8 187.1,560.6 186.5,556.9 184.0,554.4 179.6,553.1 176.5,555.6 170.2,556.2 164.0,554.8 157.1,554.4 149.0,559.4 144.0,563.1 139.0,568.1 133.4,570.0 133.4,570.6 140.2,571.0 146.5,571.5 151.5,573.1 155.9,575.0 156.5,578.1 151.5,579.8 146.5,581.2 144.6,581.9" fill="#f0f0f0" />
<polyline points="379.2,77.0 385.5,79.5 393.0,83.8 399.2,86.2 402.5,90.0 401.8,96.2 403.5,102.5 405.5,108.8 406.8,117.5 406.8,125.0 404.2,130.0 402.5,135.0 401.8,140.0 399.2,141.2 398.0,145.0 381.8,145.0 379.2,141.2 375.5,138.8 371.8,140.0 371.8,143.8 375.5,147.5 377.5,153.8 379.2,158.0 388.0,163.8 398.0,170.0 405.5,175.0 410.5,178.8 411.8,185.0 415.5,192.0 420.5,197.0 425.5,202.0 426.2,209.5 424.2,215.8 425.0,219.5 421.8,225.8 420.5,233.2 421.0,239.5 423.0,247.0 425.0,254.5 428.0,262.0 431.8,267.0 433.5,271.5 430.5,274.0 426.8,275.8 425.5,280.8 420.5,283.2 410.5,282.5 403.0,285.0 398.0,287.5 388.0,289.0 380.0,290.0 377.5,294.5 371.8,298.2 368.0,303.2 366.8,307.0 367.5,313.2 370.0,318.2 374.2,323.2 379.2,328.2 384.2,333.2 388.0,337.0 389.2,343.2 390.5,352.0 386.8,354.0 381.8,355.8 380.5,362.0 377.5,364.5 376.8,369.5 374.2,373.2 374.2,379.5 381.8,382.5 386.8,377.0 390.5,372.0 389.2,370.0 395.5,364.5 401.8,358.2 404.2,354.5 401.8,348.2 399.2,344.5 404.2,342.0 404.2,337.0 401.8,332.0 399.2,325.8 398.0,319.5 396.8,313.2 399.2,307.0 404.2,304.0 413.0,303.2 425.5,302.0 435.5,299.5 444.2,297.0 446.8,295.0 446.0,287.0 453.0,283.2 458.0,280.0 463.0,275.8 464.0,273.3 465.7,266.7 469.8,261.7 474.0,260.0 480.7,262.0 487.3,263.3 491.5,265.0 492.0,269.2 489.0,274.2 487.3,278.3 488.2,282.5 490.7,285.8 497.3,287.0 504.0,285.8 504.0,284.2 499.8,284.7 494.0,284.2 490.7,280.0 491.5,275.8 494.8,271.7 499.0,269.2 504.0,268.7 510.7,268.0 506.5,265.0 503.2,262.5 504.0,259.2 497.3,256.7 501.5,255.8 502.7,252.5 501.5,248.3 499.8,245.0 503.2,242.5 499.8,240.0 496.5,235.8 491.5,233.3 484.0,232.0 482.3,230.0 487.3,227.5 483.2,225.8 480.7,222.5 484.0,220.0 482.3,217.5 481.0,214.2 483.2,209.2 489.0,205.0 494.0,200.8 499.0,194.2 502.7,187.5 502.7,183.3 497.3,183.7 489.0,186.7 482.3,190.0 482.3,181.3 486.5,180.0 486.5,175.0 489.0,168.3 493.2,165.8 499.0,163.3 504.0,160.0 513.0,155.0 523.0,151.2 529.2,147.5 529.2,142.0 523.0,137.5 514.2,132.0 505.5,132.5 499.2,135.0 493.5,132.5 493.0,128.0 488.0,125.0 480.0,122.5 479.2,118.8 474.2,116.2 470.0,114.5 474.2,112.5 480.5,108.8 488.0,108.8 491.0,105.0 491.8,100.0 485.5,97.0 475.5,96.2 473.0,94.0 478.0,88.8 488.0,86.2 500.5,85.0 513.0,83.8 523.0,82.5 531.8,80.5 545.5,80.5 548.3,82.5 553.3,84.6 558.0,86.0 561.7,84.0 565.0,86.2 567.5,89.6 570.8,90.4 573.3,93.8 579.2,94.2 585.8,94.8 592.5,95.4 594.6,97.9 599.2,96.0 601.7,99.6 603.8,102.5 600.0,103.3 592.5,103.8 597.5,105.0 598.3,106.2 595.0,106.7 598.3,110.0 601.7,108.8 604.6,107.0 604.8,111.7 607.5,116.7 602.5,116.7 597.5,117.0 593.3,117.3 590.0,115.8 586.7,118.2 583.3,115.8 578.3,115.8 575.0,118.8 573.3,120.4 576.7,120.8 577.9,124.2 580.8,125.0 583.3,125.8 590.0,125.8 590.8,122.5 592.9,122.5 594.2,124.6 598.3,125.8 606.7,127.5 604.2,130.0 602.5,131.2 598.3,132.0 597.5,133.3 598.3,135.8 601.7,137.5 605.8,135.8 609.2,134.3 613.8,134.6 614.6,137.5 612.5,140.4 611.0,143.8 613.0,150.0 613.5,155.0 610.7,160.0 605.7,164.2 599.0,170.0 594.0,175.8 588.2,180.8 586.0,185.0 587.3,189.2 592.3,195.0 597.3,200.0 602.3,205.8 607.3,211.7 609.0,217.5 611.5,222.5 613.2,227.5 617.3,227.5 614.8,230.8 615.7,235.0 620.7,237.5 627.3,238.3 634.0,238.3 639.0,233.3 642.7,228.3 645.7,231.7 644.8,235.0 641.5,237.5 639.0,240.0 639.3,243.3 642.0,239.5 644.8,241.7 644.8,246.7 643.7,255.0 647.3,258.3 650.3,263.3 650.7,268.3 649.0,273.3 649.3,280.0 650.8,285.3 656.3,288.7 656.3,293.7 654.7,297.0 654.2,305.3 655.5,312.0 653.3,318.7 650.8,323.7 651.3,332.0 650.8,338.7 652.5,345.3 653.0,350.3 658.3,354.5 664.2,358.7 670.0,361.2 675.0,364.5 681.7,367.0 688.3,370.3 694.2,372.8 698.3,376.7 703.3,379.5 710.0,380.3 716.7,381.2 722.5,380.3 724.2,373.7 726.7,375.3 728.3,379.5 733.3,380.3 739.2,380.0 741.7,377.3 743.3,382.0 741.7,385.3 745.0,387.2 748.3,388.4 748.3,392.3 747.0,394.0 747.2,399.0 746.8,402.5 745.6,404.6 747.2,406.5 748.0,408.2 752.2,408.4 753.4,410.2 756.7,412.3 763.3,414.0 766.7,416.5 771.7,419.8 776.7,421.5 780.0,424.0 783.3,428.2 786.7,431.5 790.8,433.2 793.3,436.5 797.5,439.0 800.8,439.0 801.7,441.5 798.3,445.7 795.8,444.0 790.0,443.2 786.7,443.2 781.7,446.5 779.2,445.7 775.8,442.3 771.7,439.8 768.3,437.3 765.0,433.2 760.0,432.3 755.0,433.2 750.8,436.5 750.0,439.0 753.3,441.5 756.7,443.2 760.8,445.7 760.0,449.0 761.7,454.0 760.0,458.2 759.2,463.2 753.3,463.7 748.3,463.2 747.5,464.0 745.6,466.5 743.1,469.6 741.9,474.6 739.4,476.5 738.8,479.0 740.0,481.5 743.8,481.5 747.5,480.9 749.4,482.8 750.0,487.8 751.9,490.9 754.4,494.6 755.6,499.0 758.1,501.2 753.8,501.5 750.0,503.0 746.2,502.8 743.8,504.6 740.0,504.0 738.8,502.1 735.0,499.6 729.4,499.6 726.2,501.5 723.8,504.6 726.2,506.5 723.1,507.8 719.4,508.4 718.8,511.8 715.6,512.1 713.8,510.9 712.5,507.1 714.4,504.6 712.5,502.8 708.1,501.5 705.6,502.8 705.0,506.5 701.2,508.0 698.1,507.1 694.4,504.0 688.8,505.9 682.5,507.8 678.8,510.9 678.1,513.4 676.9,515.9 675.6,512.1 671.2,510.2 665.0,509.0 656.2,508.4 655.0,510.2 652.5,508.8 646.2,507.1 640.0,505.9 636.2,506.3 632.8,505.5 630.3,502.6 627.0,500.0 623.7,498.0 619.5,497.2 614.5,497.6 617.0,496.3 617.8,493.4 620.8,491.8 617.4,490.9 618.7,488.8 619.5,485.5 621.2,484.2 623.7,485.9 628.7,485.5 632.8,484.7 635.3,484.7 638.7,485.9 642.0,487.2 645.3,488.2 649.5,488.0 647.4,487.2 646.2,483.8 645.0,479.7 645.3,476.8 645.0,473.0 644.5,469.5 642.0,470.0 637.0,470.0 635.3,467.2 634.0,463.8 634.5,461.3 632.3,459.3 630.2,457.2 627.3,458.1 624.0,458.9 621.5,459.3 618.2,459.3 615.7,458.5 613.6,456.0 611.5,454.3 607.3,452.7 604.0,451.0 600.7,449.3 595.7,447.7 590.7,446.8 584.0,446.8 580.7,444.8 577.3,442.7 572.3,442.7 569.0,441.8 567.8,438.9 569.8,436.0 572.3,434.5 579.0,435.2 582.3,434.8 582.3,431.8 580.7,429.8 577.3,427.2 561.9,427.7 562.3,430.6 561.5,433.5 559.8,436.0 559.4,438.1 560.2,439.3 561.9,437.7 563.2,435.2 564.8,432.7 566.9,431.4 565.7,434.8 563.6,437.7 563.2,440.2 564.4,442.2 568.2,444.3 572.3,445.1 576.5,446.0 580.7,448.1 584.8,449.7 590.7,449.7 595.7,450.6 599.8,451.8 603.2,453.5 604.8,455.6 609.0,456.8 613.2,458.1 614.8,460.1 617.3,460.2 621.5,460.2 624.0,461.4 627.3,463.5 630.7,464.8 632.0,465.5 632.8,468.4 633.7,470.9 637.0,472.6 639.5,474.7 642.0,476.3 643.7,477.6 641.2,479.7 639.5,481.8 635.3,482.2 631.2,480.5 627.0,478.8 625.3,476.8 621.2,479.2 617.8,478.8 615.3,476.8 612.8,474.7 609.9,476.8 607.8,478.8 609.9,480.9 612.4,481.8 610.3,483.0 608.2,485.9 607.8,488.8 607.0,491.8 603.7,490.5 601.2,491.3 597.0,492.2 595.3,494.2 592.0,493.4 587.2,494.8 583.0,489.8 579.7,484.0 571.3,482.0 564.7,479.8 558.0,479.0 551.3,479.3 546.3,476.5 543.0,473.2 547.2,469.3 554.7,470.7 561.3,474.0 564.7,472.3 572.2,470.7 568.0,468.2 561.3,465.7 554.7,463.2 549.7,458.7 542.2,457.3 548.0,452.3 552.2,447.0 544.7,447.0 538.0,445.7 533.0,442.3 528.8,438.2 524.7,436.5 520.5,438.2 519.7,442.3 523.0,445.7 528.0,446.5 530.5,450.7 532.2,459.0 533.0,465.7 531.0,470.7 529.7,474.8 523.0,473.2 514.7,472.3 503.0,473.2 496.3,475.3 495.5,479.0 491.7,481.5 493.0,483.2 497.2,484.0 499.7,487.3 499.3,492.3 496.3,495.3 492.2,497.3 488.8,502.3 485.5,507.3 482.2,512.0 479.2,515.0 473.0,521.2 468.5,526.2 473.0,531.2 480.5,532.5 486.8,533.8 487.5,538.0 480.5,540.5 471.8,541.2 465.5,540.0 460.5,538.0 450.5,537.5 446.8,540.5 440.5,541.2 435.5,539.5 429.2,543.8 424.2,548.8 419.2,553.8 420.0,556.2 413.0,561.2 406.8,565.0 404.2,571.2 401.0,576.0 389.3,581.8 387.2,586.0 389.3,591.0 393.5,596.0 394.3,602.7 396.0,605.6 401.8,605.2 406.0,601.4 411.8,600.2 414.3,603.1 411.0,605.6 405.2,607.2 403.5,609.3 399.3,611.4 396.0,609.3 392.7,610.2 389.3,608.1 386.0,606.4 377.7,606.4 373.5,604.3 372.7,600.6 369.3,600.6 363.5,598.1 359.3,596.4 354.3,596.0 353.1,594.3 345.2,594.3 344.3,595.3 351.0,596.2 356.8,599.3 361.8,601.0 366.4,602.2 366.7,605.6 364.3,607.7 366.0,610.2 370.2,609.8 373.9,610.2 374.8,615.6 380.2,617.2 386.0,621.0 389.3,625.2 393.5,628.1 392.7,635.2 387.7,636.4 381.4,639.8 373.0,643.8 365.5,651.2 359.2,650.0 356.8,645.0 343.0,643.8 333.0,645.5 326.8,650.5 320.5,646.2 315.5,641.2 306.8,640.0 301.8,635.0 310.5,628.8 316.8,621.2 321.8,613.8 321.8,607.0 315.5,609.5 304.2,608.0 299.2,611.2 298.0,615.0 288.0,615.0 288.0,611.2 275.0,610.8 263.8,611.2 257.5,616.2 255.0,621.2 261.2,627.5 255.0,631.2 250.0,636.2 248.8,640.0 240.0,641.2 232.5,644.2 225.0,643.8 226.2,641.2 220.0,638.8 207.5,635.5 201.2,630.0 200.0,623.8 192.5,621.2 182.5,618.8 180.9,616.0 176.5,612.5 170.2,611.5 164.0,610.6 159.0,608.1 155.2,606.5 152.1,606.2 149.0,607.5 148.0,611.2 145.9,611.2 144.6,607.8 140.2,607.5 135.5,608.5 139.0,606.2 143.4,604.8 141.5,603.1 137.1,601.2 134.6,598.8 133.4,595.0 134.6,591.9 137.1,590.6 134.6,589.4 134.6,585.6 139.0,585.2 145.2,585.0 145.9,583.1 144.6,581.9 142.8,579.4 138.4,577.8 132.1,577.8 129.0,579.4 124.0,582.5 119.0,583.1 113.4,583.5 110.9,585.6 108.4,587.2 102.8,584.8 99.6,584.1 96.5,585.0 93.4,583.1 90.2,580.5 87.1,580.2 82.8,581.2 77.8,578.8 75.9,575.6 76.5,571.2 75.9,568.1 72.8,565.6 69.0,564.0" fill="none" stroke="#000" stroke-width="1" />
<polygon points="142.8,579.4 139.0,578.8 134.0,578.5 130.2,579.8 125.2,581.5 121.5,581.2 119.6,581.2 121.5,579.4 120.9,576.9 117.8,576.0 114.0,575.0 112.1,573.1 111.5,571.2 112.8,568.8 115.2,567.2 117.1,563.1 119.6,560.0 122.8,558.5 126.5,557.8 130.2,556.2 134.0,553.8 137.8,550.0 141.5,548.1 145.2,545.6 148.4,543.5 151.5,543.1 154.6,544.0 155.9,546.2 156.5,548.8 158.4,551.0 161.5,552.2 165.2,552.2 169.0,551.0 172.8,549.4 175.9,547.2 178.0,544.4 178.4,540.6 179.0,538.5 182.1,537.5 186.5,536.5 189.0,534.8 191.5,533.1 194.6,533.1 197.8,535.6 201.5,536.0 208.0,534.8 209.2,533.3 212.5,535.8 215.8,538.0 226.7,538.0 226.7,535.3 216.7,535.3 220.8,529.2 227.5,527.0 229.2,530.0 230.8,534.2 237.5,539.2 240.8,539.2 243.3,535.0 249.2,533.3 253.3,535.8 255.8,540.0 250.0,544.2 250.8,547.5 257.5,550.0 251.7,550.8 251.7,555.0 255.0,558.3 250.8,564.2 254.2,566.7 254.2,572.5 251.7,574.2 248.3,570.8 245.0,568.3 240.0,570.0 235.0,570.8 232.5,568.3 229.2,570.8 228.7,577.5 215.0,577.5 213.3,575.8 226.7,572.5 225.0,566.7 222.5,565.0 215.0,570.0 211.7,571.3 208.0,569.4 199.0,566.9 192.8,566.0 189.0,563.8 187.1,560.6 186.5,556.9 184.0,554.4 179.6,553.1 176.5,555.6 170.2,556.2 164.0,554.8 157.1,554.4 149.0,559.4 144.0,563.1 139.0,568.1 133.4,570.0 133.4,570.6 140.2,571.0 146.5,571.5 151.5,573.1 155.9,575.0 156.5,578.1 151.5,579.8 146.5,581.2 144.6,581.9" fill="none" stroke="#000" stroke-width="1" />
<polygon points="738.8,511.5 743.1,511.5 743.5,515.2 742.8,521.5 741.9,526.5 739.4,524.6 738.1,522.1 738.8,517.8 740.6,514.0" fill="none" stroke="#000" stroke-width="1" />
<polyline points="381.8,653.0 384.2,645.0 389.2,640.0 395.5,638.8 396.0,643.8 390.5,646.2 389.2,653.0" fill="none" stroke="#000" stroke-width="1" />
<polygon points="205.3,148.0 208.7,149.8 214.5,150.5 220.3,153.0 226.2,154.7 229.5,156.3 232.8,158.4 240.3,158.4 245.3,156.8 249.5,153.8 252.0,152.2 250.3,149.7 255.3,148.8 259.5,147.2 264.5,146.8 266.6,146.3 266.2,150.5 265.3,153.8 262.8,155.5 260.3,160.1 258.2,161.3 259.1,164.7 257.8,166.3 255.3,167.2 254.5,170.5 256.2,173.4 258.7,173.0 261.2,171.8 263.7,171.8 262.0,173.0 258.7,174.2 255.3,175.5 253.7,177.6 252.8,182.2 252.4,187.2 253.2,192.0 255.0,197.0 258.8,204.5 262.5,208.2 261.2,214.5 265.0,218.2 268.8,223.2 271.2,229.5 270.0,233.2 265.0,232.8 262.5,228.2 258.8,224.5 252.5,220.8 246.2,215.8 243.8,209.5 241.2,203.2 246.2,197.0 243.8,192.0 242.0,190.9 240.3,188.0 239.5,185.5 240.8,182.2 241.6,178.8 240.3,175.9 237.0,175.0 235.3,172.2 233.7,168.8 232.0,165.5 230.3,162.2 227.8,159.7 225.3,157.6 220.3,155.5 214.5,153.0 209.5,152.2 207.0,150.5" fill="none" stroke="#000" stroke-width="1" />
<polygon points="176.2,257.5 185.0,257.5 185.5,263.2 180.5,270.0 182.5,272.5 188.8,272.0 193.8,269.5 195.5,271.5 190.0,277.0 183.8,282.5 175.0,285.8 170.5,290.0 167.5,295.8 162.5,300.8 158.8,304.0 153.0,305.8 153.0,308.2 157.5,310.8 166.2,311.5 166.2,315.0 161.2,315.8 160.0,322.0 160.0,330.8 157.0,332.5 160.0,337.0 160.5,343.2 159.5,347.5 154.5,345.0 151.2,340.8 150.8,335.8 155.0,332.0 155.5,323.2 150.0,320.8 146.2,317.0 145.0,309.5 145.0,305.8 138.8,303.2 142.5,298.2 147.5,295.0 148.8,289.5 156.2,287.5 160.5,283.2 162.0,271.5 167.5,266.5" fill="none" stroke="#000" stroke-width="1" />
<polygon points="590.8,317.8 596.7,320.3 605.0,322.8 613.3,322.0 617.5,325.3 619.7,329.5 618.3,334.5 613.0,336.2 611.7,342.0 612.0,348.7 615.8,351.2 617.5,354.5 615.8,358.3 610.0,357.0 605.0,354.5 602.5,352.0 604.2,347.8 606.7,345.3 605.0,340.3 600.0,336.2 593.3,334.5 590.0,331.2 587.5,325.3 585.8,322.0" fill="none" stroke="#000" stroke-width="1" />
<polygon points="543.0,343.2 550.5,346.5 548.0,352.0 543.0,355.8 540.5,362.0 535.5,364.0 532.5,362.0 534.2,355.8 530.5,353.2 531.8,350.8 538.0,350.0 540.5,345.0" fill="none" stroke="#000" stroke-width="1" />
<polygon points="394.7,440.3 398.8,440.0 404.7,442.0 411.3,446.2 419.7,447.0 423.8,447.3 425.0,450.3 419.7,452.8 413.0,452.8 406.3,450.7 399.7,447.8 394.7,446.2 393.3,443.3" fill="none" stroke="#000" stroke-width="1" />
<polyline points="642.5,423.5 644.5,425.5 644.5,428.5 640.5,428.5 639.5,427.0" fill="none" stroke="#000" stroke-width="1" />
<rect x="226" y="146" width="1" height="1" fill="#000"/><rect x="227" y="145" width="1" height="1" fill="#000"/><rect x="227" y="147" width="1" height="1" fill="#000"/><rect x="228" y="144" width="1" height="1" fill="#000"/><rect x="228" y="148" width="1" height="1" fill="#000"/><rect x="229" y="143" width="1" height="1" fill="#000"/><rect x="229" y="149" width="1" height="1" fill="#000"/><rect x="230" y="142" width="1" height="1" fill="#000"/><rect x="230" y="150" width="1" height="1" fill="#000"/><rect x="231" y="143" width="1" height="1" fill="#000"/><rect x="231" y="149" width="1" height="1" fill="#000"/><rect x="232" y="144" width="1" height="1" fill="#000"/><rect x="232" y="148" width="1" height="1" fill="#000"/><rect x="233" y="145" width="1" height="1" fill="#000"/><rect x="233" y="147" width="1" height="1" fill="#000"/><rect x="234" y="146" width="1" height="1" fill="#000"/>
<rect x="228" y="146" width="1" height="1" fill="#c8148c"/><rect x="229" y="145" width="1" height="1" fill="#c8148c"/><rect x="229" y="147" width="1" height="1" fill="#c8148c"/><rect x="230" y="144" width="1" height="1" fill="#c8148c"/><rect x="230" y="148" width="1" height="1" fill="#c8148c"/><rect x="231" y="145" width="1" height="1" fill="#c8148c"/><rect x="231" y="147" width="1" height="1" fill="#c8148c"/><rect x="232" y="146" width="1" height="1" fill="#c8148c"/>
<rect x="256" y="201" width="1" height="1" fill="#000"/><rect x="257" y="200" width="1" height="1" fill="#000"/><rect x="257" y="202" width="1" height="1" fill="#000"/><rect x="258" y="199" width="1" height="1" fill="#000"/><rect x="258" y="203" width="1" height="1" fill="#000"/><rect x="259" y="198" width="1" height="1" fill="#000"/><rect x="259" y="204" width="1" height="1" fill="#000"/><rect x="260" y="197" width="1" height="1" fill="#000"/><rect x="260" y="205" width="1" height="1" fill="#000"/><rect x="261" y="198" width="1" height="1" fill="#000"/><rect x="261" y="204" width="1" height="1" fill="#000"/><rect x="262" y="199" width="1" height="1" fill="#000"/><rect x="262" y="203" width="1" height="1" fill="#000"/><rect x="263" y="200" width="1" height="1" fill="#000"/><rect x="263" y="202" width="1" height="1" fill="#000"/><rect x="264" y="201" width="1" height="1" fill="#000"/>
<rect x="258" y="201" width="1" height="1" fill="#c8148c"/><rect x="259" y="200" width="1" height="1" fill="#c8148c"/><rect x="259" y="202" width="1" height="1" fill="#c8148c"/><rect x="260" y="199" width="1" height="1" fill="#c8148c"/><rect x="260" y="203" width="1" height="1" fill="#c8148c"/><rect x="261" y="200" width="1" height="1" fill="#c8148c"/><rect x="261" y="202" width="1" height="1" fill="#c8148c"/><rect x="262" y="201" width="1" height="1" fill="#c8148c"/>
<rect x="570" y="126" width="1" height="1" fill="#000"/><rect x="571" y="125" width="1" height="1" fill="#000"/><rect x="571" y="127" width="1" height="1" fill="#000"/><rect x="572" y="124" width="1" height="1" fill="#000"/><rect x="572" y="128" width="1" height="1" fill="#000"/><rect x="573" y="123" width="1" height="1" fill="#000"/><rect x="573" y="129" width="1" height="1" fill="#000"/><rect x="574" y="122" width="1" height="1" fill="#000"/><rect x="574" y="130" width="1" height="1" fill="#000"/><rect x="575" y="123" width="1" height="1" fill="#000"/><rect x="575" y="129" width="1" height="1" fill="#000"/><rect x="576" y="124" width="1" height="1" fill="#000"/><rect x="576" y="128" width="1" height="1" fill="#000"/><rect x="577" y="125" width="1" height="1" fill="#000"/><rect x="577" y="127" width="1" height="1" fill="#000"/><rect x="578" y="126" width="1" height="1" fill="#000"/>
<rect x="572" y="126" width="1" height="1" fill="#c8148c"/><rect x="573" y="125" width="1" height="1" fill="#c8148c"/><rect x="573" y="127" width="1" height="1" fill="#c8148c"/><rect x="574" y="124" width="1" height="1" fill="#c8148c"/><rect x="574" y="128" width="1" height="1" fill="#c8148c"/><rect x="575" y="125" width="1" height="1" fill="#c8148c"/><rect x="575" y="127" width="1" height="1" fill="#c8148c"/><rect x="576" y="126" width="1" height="1" fill="#c8148c"/>
<rect x="499" y="279" width="1" height="1" fill="#000"/><rect x="500" y="278" width="1" height="1" fill="#000"/><rect x="500" y="280" width="1" height="1" fill="#000"/><rect x="501" y="277" width="1" height="1" fill="#000"/><rect x="501" y="281" width="1" height="1" fill="#000"/><rect x="502" y="276" width="1" height="1" fill="#000"/><rect x="502" y="282" width="1" height="1" fill="#000"/><rect x="503" y="275" width="1" height="1" fill="#000"/><rect x="503" y="283" width="1" height="1" fill="#000"/><rect x="504" y="276" width="1" height="1" fill="#000"/><rect x="504" y="282" width="1" height="1" fill="#000"/><rect x="505" y="277" width="1" height="1" fill="#000"/><rect x="505" y="281" width="1" height="1" fill="#000"/><rect x="506" y="278" width="1" height="1" fill="#000"/><rect x="506" y="280" width="1" height="1" fill="#000"/><rect x="507" y="279" width="1" height="1" fill="#000"/>
<rect x="501" y="279" width="1" height="1" fill="#c8148c"/><rect x="502" y="278" width="1" height="1" fill="#c8148c"/><rect x="502" y="280" width="1" height="1" fill="#c8148c"/><rect x="503" y="277" width="1" height="1" fill="#c8148c"/><rect x="503" y="281" width="1" height="1" fill="#c8148c"/><rect x="504" y="278" width="1" height="1" fill="#c8148c"/><rect x="504" y="280" width="1" height="1" fill="#c8148c"/><rect x="505" y="279" width="1" height="1" fill="#c8148c"/>
<rect x="448" y="316" width="1" height="1" fill="#000"/><rect x="449" y="315" width="1" height="1" fill="#000"/><rect x="449" y="317" width="1" height="1" fill="#000"/><rect x="450" y="314" width="1" height="1" fill="#000"/><rect x="450" y="318" width="1" height="1" fill="#000"/><rect x="451" y="313" width="1" height="1" fill="#000"/><rect x="451" y="319" width="1" height="1" fill="#000"/><rect x="452" y="312" width="1" height="1" fill="#000"/><rect x="452" y="320" width="1" height="1" fill="#000"/><rect x="453" y="313" width="1" height="1" fill="#000"/><rect x="453" y="319" width="1" height="1" fill="#000"/><rect x="454" y="314" width="1" height="1" fill="#000"/><rect x="454" y="318" width="1" height="1" fill="#000"/><rect x="455" y="315" width="1" height="1" fill="#000"/><rect x="455" y="317" width="1" height="1" fill="#000"/><rect x="456" y="316" width="1" height="1" fill="#000"/>
<rect x="450" y="316" width="1" height="1" fill="#c8148c"/><rect x="451" y="315" width="1" height="1" fill="#c8148c"/><rect x="451" y="317" width="1" height="1" fill="#c8148c"/><rect x="452" y="314" width="1" height="1" fill="#c8148c"/><rect x="452" y="318" width="1" height="1" fill="#c8148c"/><rect x="453" y="315" width="1" height="1" fill="#c8148c"/><rect x="453" y="317" width="1" height="1" fill="#c8148c"/><rect x="454" y="316" width="1" height="1" fill="#c8148c"/>
<rect x="470" y="447" width="1" height="1" fill="#000"/><rect x="471" y="446" width="1" height="1" fill="#000"/><rect x="471" y="448" width="1" height="1" fill="#000"/><rect x="472" y="445" width="1" height="1" fill="#000"/><rect x="472" y="449" width="1" height="1" fill="#000"/><rect x="473" y="444" width="1" height="1" fill="#000"/><rect x="473" y="450" width="1" height="1" fill="#000"/><rect x="474" y="443" width="1" height="1" fill="#000"/><rect x="474" y="451" width="1" height="1" fill="#000"/><rect x="475" y="444" width="1" height="1" fill="#000"/><rect x="475" y="450" width="1" height="1" fill="#000"/><rect x="476" y="445" width="1" height="1" fill="#000"/><rect x="476" y="449" width="1" height="1" fill="#000"/><rect x="477" y="446" width="1" height="1" fill="#000"/><rect x="477" y="448" width="1" height="1" fill="#000"/><rect x="478" y="447" width="1" height="1" fill="#000"/>
<rect x="472" y="447" width="1" height="1" fill="#c8148c"/><rect x="473" y="446" width="1" height="1" fill="#c8148c"/><rect x="473" y="448" width="1" height="1" fill="#c8148c"/><rect x="474" y="445" width="1" height="1" fill="#c8148c"/><rect x="474" y="449" width="1" height="1" fill="#c8148c"/><rect x="475" y="446" width="1" height="1" fill="#c8148c"/><rect x="475" y="448" width="1" height="1" fill="#c8148c"/><rect x="476" y="447" width="1" height="1" fill="#c8148c"/>
<rect x="470" y="466" width="1" height="1" fill="#000"/><rect x="471" y="465" width="1" height="1" fill="#000"/><rect x="471" y="467" width="1" height="1" fill="#000"/><rect x="472" y="464" width="1" height="1" fill="#000"/><rect x="472" y="468" width="1" height="1" fill="#000"/><rect x="473" y="463" width="1" height="1" fill="#000"/><rect x="473" y="469" width="1" height="1" fill="#000"/><rect x="474" y="462" width="1" height="1" fill="#000"/><rect x="474" y="470" width="1" height="1" fill="#000"/><rect x="475" y="463" width="1" height="1" fill="#000"/><rect x="475" y="469" width="1" height="1" fill="#000"/><rect x="476" y="464" width="1" height="1" fill="#000"/><rect x="476" y="468" width="1" height="1" fill="#000"/><rect x="477" y="465" width="1" height="1" fill="#000"/><rect x="477" y="467" width="1" height="1" fill="#000"/><rect x="478" y="466" width="1" height="1" fill="#000"/>
<rect x="472" y="466" width="1" height="1" fill="#c8148c"/><rect x="473" y="465" width="1" height="1" fill="#c8148c"/><rect x="473" y="467" width="1" height="1" fill="#c8148c"/><rect x="474" y="464" width="1" height="1" fill="#c8148c"/><rect x="474" y="468" width="1" height="1" fill="#c8148c"/><rect x="475" y="465" width="1" height="1" fill="#c8148c"/><rect x="475" y="467" width="1" height="1" fill="#c8148c"/><rect x="476" y="466" width="1" height="1" fill="#c8148c"/>
<rect x="504" y="466" width="1" height="1" fill="#000"/><rect x="505" y="465" width="1" height="1" fill="#000"/><rect x="505" y="467" width="1" height="1" fill="#000"/><rect x="506" y="464" width="1" height="1" fill="#000"/><rect x="506" y="468" width="1" height="1" fill="#000"/><rect x="507" y="463" width="1" height="1" fill="#000"/><rect x="507" y="469" width="1" height="1" fill="#000"/><rect x="508" y="462" width="1" height="1" fill="#000"/><rect x="508" y="470" width="1" height="1" fill="#000"/><rect x="509" y="463" width="1" height="1" fill="#000"/><rect x="509" y="469" width="1" height="1" fill="#000"/><rect x="510" y="464" width="1" height="1" fill="#000"/><rect x="510" y="468" width="1" height="1" fill="#000"/><rect x="511" y="465" width="1" height="1" fill="#000"/><rect x="511" y="467" width="1" height="1" fill="#000"/><rect x="512" y="466" width="1" height="1" fill="#000"/>
<rect x="506" y="466" width="1" height="1" fill="#c8148c"/><rect x="507" y="465" width="1" height="1" fill="#c8148c"/><rect x="507" y="467" width="1" height="1" fill="#c8148c"/><rect x="508" y="464" width="1" height="1" fill="#c8148c"/><rect x="508" y="468" width="1" height="1" fill="#c8148c"/><rect x="509" y="465" width="1" height="1" fill="#c8148c"/><rect x="509" y="467" width="1" height="1" fill="#c8148c"/><rect x="510" y="466" width="1" height="1" fill="#c8148c"/>
<rect x="635" y="423" width="1" height="1" fill="#000"/><rect x="636" y="422" width="1" height="1" fill="#000"/><rect x="636" y="424" width="1" height="1" fill="#000"/><rect x="637" y="421" width="1" height="1" fill="#000"/><rect x="637" y="425" width="1" height="1" fill="#000"/><rect x="638" y="420" width="1" height="1" fill="#000"/><rect x="638" y="426" width="1" height="1" fill="#000"/><rect x="639" y="419" width="1" height="1" fill="#000"/><rect x="639" y="427" width="1" height="1" fill="#000"/><rect x="640" y="420" width="1" height="1" fill="#000"/><rect x="640" y="426" width="1" height="1" fill="#000"/><rect x="641" y="421" width="1" height="1" fill="#000"/><rect x="641" y="425" width="1" height="1" fill="#000"/><rect x="642" y="422" width="1" height="1" fill="#000"/><rect x="642" y="424" width="1" height="1" fill="#000"/><rect x="643" y="423" width="1" height="1" fill="#000"/>
<rect x="637" y="423" width="1" height="1" fill="#c8148c"/><rect x="638" y="422" width="1" height="1" fill="#c8148c"/><rect x="638" y="424" width="1" height="1" fill="#c8148c"/><rect x="639" y="421" width="1" height="1" fill="#c8148c"/><rect x="639" y="425" width="1" height="1" fill="#c8148c"/><rect x="640" y="422" width="1" height="1" fill="#c8148c"/><rect x="640" y="424" width="1" height="1" fill="#c8148c"/><rect x="641" y="423" width="1" height="1" fill="#c8148c"/>
<rect x="716" y="416" width="1" height="1" fill="#000"/><rect x="717" y="415" width="1" height="1" fill="#000"/><rect x="717" y="417" width="1" height="1" fill="#000"/><rect x="718" y="414" width="1" height="1" fill="#000"/><rect x="718" y="418" width="1" height="1" fill="#000"/><rect x="719" y="413" width="1" height="1" fill="#000"/><rect x="719" y="419" width="1" height="1" fill="#000"/><rect x="720" y="412" width="1" height="1" fill="#000"/><rect x="720" y="420" width="1" height="1" fill="#000"/><rect x="721" y="413" width="1" height="1" fill="#000"/><rect x="721" y="419" width="1" height="1" fill="#000"/><rect x="722" y="414" width="1" height="1" fill="#000"/><rect x="722" y="418" width="1" height="1" fill="#000"/><rect x="723" y="415" width="1" height="1" fill="#000"/><rect x="723" y="417" width="1" height="1" fill="#000"/><rect x="724" y="416" width="1" height="1" fill="#000"/>
<rect x="718" y="416" width="1" height="1" fill="#c8148c"/><rect x="719" y="415" width="1" height="1" fill="#c8148c"/><rect x="719" y="417" width="1" height="1" fill="#c8148c"/><rect x="720" y="414" width="1" height="1" fill="#c8148c"/><rect x="720" y="418" width="1" height="1" fill="#c8148c"/><rect x="721" y="415" width="1" height="1" fill="#c8148c"/><rect x="721" y="417" width="1" height="1" fill="#c8148c"/><rect x="722" y="416" width="1" height="1" fill="#c8148c"/>
<rect x="735" y="424" width="1" height="1" fill="#000"/><rect x="736" y="423" width="1" height="1" fill="#000"/><rect x="736" y="425" width="1" height="1" fill="#000"/><rect x="737" y="422" width="1" height="1" fill="#000"/><rect x="737" y="426" width="1" height="1" fill="#000"/><rect x="738" y="421" width="1" height="1" fill="#000"/><rect x="738" y="427" width="1" height="1" fill="#000"/><rect x="739" y="420" width="1" height="1" fill="#000"/><rect x="739" y="428" width="1" height="1" fill="#000"/><rect x="740" y="421" width="1" height="1" fill="#000"/><rect x="740" y="427" width="1" height="1" fill="#000"/><rect x="741" y="422" width="1" height="1" fill="#000"/><rect x="741" y="426" width="1" height="1" fill="#000"/><rect x="742" y="423" width="1" height="1" fill="#000"/><rect x="742" y="425" width="1" height="1" fill="#000"/><rect x="743" y="424" width="1" height="1" fill="#000"/>
<rect x="737" y="424" width="1" height="1" fill="#c8148c"/><rect x="738" y="423" width="1" height="1" fill="#c8148c"/><rect x="738" y="425" width="1" height="1" fill="#c8148c"/><rect x="739" y="422" width="1" height="1" fill="#c8148c"/><rect x="739" y="426" width="1" height="1" fill="#c8148c"/><rect x="740" y="423" width="1" height="1" fill="#c8148c"/><rect x="740" y="425" width="1" height="1" fill="#c8148c"/><rect x="741" y="424" width="1" height="1" fill="#c8148c"/>
<rect x="731" y="427" width="1" height="1" fill="#000"/><rect x="732" y="426" width="1" height="1" fill="#000"/><rect x="732" y="428" width="1" height="1" fill="#000"/><rect x="733" y="425" width="1" height="1" fill="#000"/><rect x="733" y="429" width="1" height="1" fill="#000"/><rect x="734" y="424" width="1" height="1" fill="#000"/><rect x="734" y="430" width="1" height="1" fill="#000"/><rect x="735" y="423" width="1" height="1" fill="#000"/><rect x="735" y="431" width="1" height="1" fill="#000"/><rect x="736" y="424" width="1" height="1" fill="#000"/><rect x="736" y="430" width="1" height="1" fill="#000"/><rect x="737" y="425" width="1" height="1" fill="#000"/><rect x="737" y="429" width="1" height="1" fill="#000"/><rect x="738" y="426" width="1" height="1" fill="#000"/><rect x="738" y="428" width="1" height="1" fill="#000"/><rect x="739" y="427" width="1" height="1" fill="#000"/>
<rect x="733" y="427" width="1" height="1" fill="#c8148c"/><rect x="734" y="426" width="1" height="1" fill="#c8148c"/><rect x="734" y="428" width="1" height="1" fill="#c8148c"/><rect x="735" y="425" width="1" height="1" fill="#c8148c"/><rect x="735" y="429" width="1" height="1" fill="#c8148c"/><rect x="736" y="426" width="1" height="1" fill="#c8148c"/><rect x="736" y="428" width="1" height="1" fill="#c8148c"/><rect x="737" y="427" width="1" height="1" fill="#c8148c"/>
<rect x="793" y="442" width="1" height="1" fill="#000"/><rect x="794" y="441" width="1" height="1" fill="#000"/><rect x="794" y="443" width="1" height="1" fill="#000"/><rect x="795" y="440" width="1" height="1" fill="#000"/><rect x="795" y="444" width="1" height="1" fill="#000"/><rect x="796" y="439" width="1" height="1" fill="#000"/><rect x="796" y="445" width="1" height="1" fill="#000"/><rect x="797" y="438" width="1" height="1" fill="#000"/><rect x="797" y="446" width="1" height="1" fill="#000"/><rect x="798" y="439" width="1" height="1" fill="#000"/><rect x="798" y="445" width="1" height="1" fill="#000"/><rect x="799" y="440" width="1" height="1" fill="#000"/><rect x="799" y="444" width="1" height="1" fill="#000"/><rect x="800" y="441" width="1" height="1" fill="#000"/><rect x="800" y="443" width="1" height="1" fill="#000"/><rect x="801" y="442" width="1" height="1" fill="#000"/>
<rect x="795" y="442" width="1" height="1" fill="#c8148c"/><rect x="796" y="441" width="1" height="1" fill="#c8148c"/><rect x="796" y="443" width="1" height="1" fill="#c8148c"/><rect x="797" y="440" width="1" height="1" fill="#c8148c"/><rect x="797" y="444" width="1" height="1" fill="#c8148c"/><rect x="798" y="441" width="1" height="1" fill="#c8148c"/><rect x="798" y="443" width="1" height="1" fill="#c8148c"/><rect x="799" y="442" width="1" height="1" fill="#c8148c"/>
<rect x="724" y="492" width="1" height="1" fill="#000"/><rect x="725" y="491" width="1" height="1" fill="#000"/><rect x="725" y="493" width="1" height="1" fill="#000"/><rect x="726" y="490" width="1" height="1" fill="#000"/><rect x="726" y="494" width="1" height="1" fill="#000"/><rect x="727" y="489" width="1" height="1" fill="#000"/><rect x="727" y="495" width="1" height="1" fill="#000"/><rect x="728" y="488" width="1" height="1" fill="#000"/><rect x="728" y="496" width="1" height="1" fill="#000"/><rect x="729" y="489" width="1" height="1" fill="#000"/><rect x="729" y="495" width="1" height="1" fill="#000"/><rect x="730" y="490" width="1" height="1" fill="#000"/><rect x="730" y="494" width="1" height="1" fill="#000"/><rect x="731" y="491" width="1" height="1" fill="#000"/><rect x="731" y="493" width="1" height="1" fill="#000"/><rect x="732" y="492" width="1" height="1" fill="#000"/>
<rect x="726" y="492" width="1" height="1" fill="#c8148c"/><rect x="727" y="491" width="1" height="1" fill="#c8148c"/><rect x="727" y="493" width="1" height="1" fill="#c8148c"/><rect x="728" y="490" width="1" height="1" fill="#c8148c"/><rect x="728" y="494" width="1" height="1" fill="#c8148c"/><rect x="729" y="491" width="1" height="1" fill="#c8148c"/><rect x="729" y="493" width="1" height="1" fill="#c8148c"/><rect x="730" y="492" width="1" height="1" fill="#c8148c"/>
<rect x="626" y="461" width="1" height="1" fill="#000"/><rect x="627" y="460" width="1" height="1" fill="#000"/><rect x="627" y="462" width="1" height="1" fill="#000"/><rect x="628" y="459" width="1" height="1" fill="#000"/><rect x="628" y="463" width="1" height="1" fill="#000"/><rect x="629" y="458" width="1" height="1" fill="#000"/><rect x="629" y="464" width="1" height="1" fill="#000"/><rect x="630" y="457" width="1" height="1" fill="#000"/><rect x="630" y="465" width="1" height="1" fill="#000"/><rect x="631" y="458" width="1" height="1" fill="#000"/><rect x="631" y="464" width="1" height="1" fill="#000"/><rect x="632" y="459" width="1" height="1" fill="#000"/><rect x="632" y="463" width="1" height="1" fill="#000"/><rect x="633" y="460" width="1" height="1" fill="#000"/><rect x="633" y="462" width="1" height="1" fill="#000"/><rect x="634" y="461" width="1" height="1" fill="#000"/>
<rect x="628" y="461" width="1" height="1" fill="#c8148c"/><rect x="629" y="460" width="1" height="1" fill="#c8148c"/><rect x="629" y="462" width="1" height="1" fill="#c8148c"/><rect x="630" y="459" width="1" height="1" fill="#c8148c"/><rect x="630" y="463" width="1" height="1" fill="#c8148c"/><rect x="631" y="460" width="1" height="1" fill="#c8148c"/><rect x="631" y="462" width="1" height="1" fill="#c8148c"/><rect x="632" y="461" width="1" height="1" fill="#c8148c"/>
<rect x="706" y="389" width="1" height="1" fill="#c8148c"/><rect x="707" y="388" width="1" height="1" fill="#c8148c"/><rect x="707" y="389" width="1" height="1" fill="#c8148c"/><rect x="707" y="390" width="1" height="1" fill="#c8148c"/><rect x="708" y="387" width="1" height="1" fill="#c8148c"/><rect x="708" y="388" width="1" height="1" fill="#c8148c"/><rect x="708" y="389" width="1" height="1" fill="#c8148c"/><rect x="708" y="390" width="1" height="1" fill="#c8148c"/><rect x="708" y="391" width="1" height="1" fill="#c8148c"/><rect x="709" y="386" width="1" height="1" fill="#c8148c"/><rect x="709" y="387" width="1" height="1" fill="#c8148c"/><rect x="709" y="388" width="1" height="1" fill="#c8148c"/><rect x="709" y="389" width="1" height="1" fill="#c8148c"/><rect x="709" y="390" width="1" height="1" fill="#c8148c"/><rect x="709" y="391" width="1" height="1" fill="#c8148c"/><rect x="709" y="392" width="1" height="1" fill="#c8148c"/><rect x="710" y="387" width="1" height="1" fill="#c8148c"/><rect x="710" y="388" width="1" height="1" fill="#c8148c"/><rect x="710" y="389" width="1" height="1" fill="#c8148c"/><rect x="710" y="390" width="1" height="1" fill="#c8148c"/><rect x="710" y="391" width="1" height="1" fill="#c8148c"/><rect x="711" y="388" width="1" height="1" fill="#c8148c"/><rect x="711" y="389" width="1" height="1" fill="#c8148c"/><rect x="711" y="390" width="1" height="1" fill="#c8148c"/><rect x="712" y="389" width="1" height="1" fill="#c8148c"/>
<rect x="704" y="389" width="1" height="1" fill="#000"/><rect x="705" y="388" width="1" height="1" fill="#000"/><rect x="705" y="389" width="1" height="1" fill="#000"/><rect x="705" y="390" width="1" height="1" fill="#000"/><rect x="706" y="387" width="1" height="1" fill="#000"/><rect x="706" y="388" width="1" height="1" fill="#000"/><rect x="706" y="390" width="1" height="1" fill="#000"/><rect x="706" y="391" width="1" height="1" fill="#000"/><rect x="707" y="386" width="1" height="1" fill="#000"/><rect x="707" y="387" width="1" height="1" fill="#000"/><rect x="707" y="391" width="1" height="1" fill="#000"/><rect x="707" y="392" width="1" height="1" fill="#000"/><rect x="708" y="385" width="1" height="1" fill="#000"/><rect x="708" y="386" width="1" height="1" fill="#000"/><rect x="708" y="392" width="1" height="1" fill="#000"/><rect x="708" y="393" width="1" height="1" fill="#000"/><rect x="709" y="384" width="1" height="1" fill="#000"/><rect x="709" y="385" width="1" height="1" fill="#000"/><rect x="709" y="393" width="1" height="1" fill="#000"/><rect x="709" y="394" width="1" height="1" fill="#000"/><rect x="710" y="385" width="1" height="1" fill="#000"/><rect x="710" y="386" width="1" height="1" fill="#000"/><rect x="710" y="392" width="1" height="1" fill="#000"/><rect x="710" y="393" width="1" height="1" fill="#000"/><rect x="711" y="386" width="1" height="1" fill="#000"/><rect x="711" y="387" width="1" height="1" fill="#000"/><rect x="711" y="391" width="1" height="1" fill="#000"/><rect x="711" y="392" width="1" height="1" fill="#000"/><rect x="712" y="387" width="1" height="1" fill="#000"/><rect x="712" y="388" width="1" height="1" fill="#000"/><rect x="712" y="390" width="1" height="1" fill="#000"/><rect x="712" y="391" width="1" height="1" fill="#000"/><rect x="713" y="388" width="1" height="1" fill="#000"/><rect x="713" y="389" width="1" height="1" fill="#000"/><rect x="713" y="390" width="1" height="1" fill="#000"/><rect x="714" y="389" width="1" height="1" fill="#000"/>
<rect x="708" y="389" width="1" height="1" fill="#f5dc9b"/><rect x="709" y="389" width="1" height="1" fill="#f5dc9b"/>
</g>
<g fill="none" stroke="#000" stroke-width="1" stroke-linecap="square" stroke-linejoin="miter" shape-rendering="crispEdges">
<polyline points="297.53,58.50 301.74,69.50"/><polyline points="305.95,58.50 301.74,69.50"/><polyline points="308.59,58.71 308.59,58.18"/><polyline points="308.59,62.16 308.59,69.50"/><polyline points="318.59,63.74 317.54,62.69 316.48,62.16 314.90,62.16 313.85,62.69 312.80,63.74 312.27,65.31 312.27,66.36 312.80,67.93 313.85,68.98 314.90,69.50 316.48,69.50 317.54,68.98 318.59,67.93"/><polyline points="322.80,58.50 322.80,67.40 323.33,68.98 324.38,69.50 325.44,69.50"/><polyline points="321.22,62.16 324.91,62.16"/><polyline points="330.70,62.16 329.65,62.69 328.60,63.74 328.07,65.31 328.07,66.36 328.60,67.93 329.65,68.98 330.70,69.50 332.28,69.50 333.34,68.98 334.39,67.93 334.92,66.36 334.92,65.31 334.39,63.74 333.34,62.69 332.28,62.16 330.70,62.16"/><polyline points="338.60,62.16 338.60,69.50"/><polyline points="338.60,65.31 339.13,63.74 340.18,62.69 341.23,62.16 342.81,62.16"/><polyline points="345.45,58.71 345.45,58.18"/><polyline points="345.45,62.16 345.45,69.50"/><polyline points="355.45,62.16 355.45,69.50"/><polyline points="355.45,63.74 354.40,62.69 353.35,62.16 351.77,62.16 350.71,62.69 349.66,63.74 349.13,65.31 349.13,66.36 349.66,67.93 350.71,68.98 351.77,69.50 353.35,69.50 354.40,68.98 355.45,67.93"/><polyline points="358.61,58.50 361.25,69.50"/><polyline points="363.88,58.50 361.25,69.50"/><polyline points="363.88,58.50 366.51,69.50"/><polyline points="369.14,58.50 366.51,69.50"/><polyline points="371.78,65.31 378.10,65.31 378.10,64.26 377.57,63.21 377.04,62.69 375.99,62.16 374.41,62.16 373.36,62.69 372.30,63.74 371.78,65.31 371.78,66.36 372.30,67.93 373.36,68.98 374.41,69.50 375.99,69.50 377.04,68.98 378.10,67.93"/><polyline points="387.58,62.16 387.58,69.50"/><polyline points="387.58,63.74 386.52,62.69 385.47,62.16 383.89,62.16 382.84,62.69 381.78,63.74 381.26,65.31 381.26,66.36 381.78,67.93 382.84,68.98 383.89,69.50 385.47,69.50 386.52,68.98 387.58,67.93"/><polyline points="392.31,58.50 392.31,67.40 392.84,68.98 393.89,69.50 394.95,69.50"/><polyline points="390.73,62.16 394.42,62.16"/><polyline points="398.11,58.50 398.11,69.50"/><polyline points="398.11,64.26 399.69,62.69 400.74,62.16 402.32,62.16 403.37,62.69 403.90,64.26 403.90,69.50"/><polyline points="407.59,65.31 413.91,65.31 413.91,64.26 413.38,63.21 412.85,62.69 411.80,62.16 410.22,62.16 409.17,62.69 408.11,63.74 407.59,65.31 407.59,66.36 408.11,67.93 409.17,68.98 410.22,69.50 411.80,69.50 412.85,68.98 413.91,67.93"/><polyline points="417.59,62.16 417.59,69.50"/><polyline points="417.59,65.31 418.12,63.74 419.17,62.69 420.22,62.16 421.80,62.16"/><polyline points="424.96,68.45 424.96,69.50 424.44,70.29"/><polyline points="435.50,63.74 434.44,62.69 433.39,62.16 431.81,62.16 430.76,62.69 429.70,63.74 429.18,65.31 429.18,66.36 429.70,67.93 430.76,68.98 431.81,69.50 433.39,69.50 434.44,68.98 435.50,67.93"/><polyline points="444.97,62.16 444.97,69.50"/><polyline points="444.97,63.74 443.92,62.69 442.87,62.16 441.29,62.16 440.24,62.69 439.18,63.74 438.66,65.31 438.66,66.36 439.18,67.93 440.24,68.98 441.29,69.50 442.87,69.50 443.92,68.98 444.97,67.93"/><polyline points="457.61,64.78 467.09,64.78"/><polyline points="471.30,64.78 480.78,64.78"/><polyline points="495.53,58.50 495.53,69.50"/><polyline points="491.84,58.50 499.21,58.50"/><polyline points="501.32,65.31 507.64,65.31 507.64,64.26 507.11,63.21 506.59,62.69 505.53,62.16 503.95,62.16 502.90,62.69 501.85,63.74 501.32,65.31 501.32,66.36 501.85,67.93 502.90,68.98 503.95,69.50 505.53,69.50 506.59,68.98 507.64,67.93"/><polyline points="511.33,62.16 511.33,69.50"/><polyline points="511.33,64.26 512.91,62.69 513.96,62.16 515.54,62.16 516.59,62.69 517.12,64.26 517.12,69.50"/><polyline points="517.12,64.26 518.70,62.69 519.75,62.16 521.33,62.16 522.38,62.69 522.91,64.26 522.91,69.50"/><polyline points="527.12,62.16 527.12,73.17"/><polyline points="527.12,63.74 528.18,62.69 529.23,62.16 530.81,62.16 531.86,62.69 532.92,63.74 533.44,65.31 533.44,66.36 532.92,67.93 531.86,68.98 530.81,69.50 529.23,69.50 528.18,68.98 527.12,67.93"/><polyline points="536.60,65.31 542.92,65.31 542.92,64.26 542.40,63.21 541.87,62.69 540.82,62.16 539.24,62.16 538.18,62.69 537.13,63.74 536.60,65.31 536.60,66.36 537.13,67.93 538.18,68.98 539.24,69.50 540.82,69.50 541.87,68.98 542.92,67.93"/><polyline points="546.61,62.16 546.61,69.50"/><polyline points="546.61,65.31 547.13,63.74 548.19,62.69 549.24,62.16 550.82,62.16"/><polyline points="559.25,62.16 559.25,69.50"/><polyline points="559.25,63.74 558.19,62.69 557.14,62.16 555.56,62.16 554.51,62.69 553.45,63.74 552.93,65.31 552.93,66.36 553.45,67.93 554.51,68.98 555.56,69.50 557.14,69.50 558.19,68.98 559.25,67.93"/><polyline points="563.99,58.50 563.99,67.40 564.51,68.98 565.57,69.50 566.62,69.50"/><polyline points="562.41,62.16 566.09,62.16"/><polyline points="569.78,62.16 569.78,67.40 570.31,68.98 571.36,69.50 572.94,69.50 573.99,68.98 575.57,67.40"/><polyline points="575.57,62.16 575.57,69.50"/><polyline points="579.78,62.16 579.78,69.50"/><polyline points="579.78,65.31 580.31,63.74 581.36,62.69 582.42,62.16 584.00,62.16"/><polyline points="586.10,65.31 592.42,65.31 592.42,64.26 591.90,63.21 591.37,62.69 590.32,62.16 588.74,62.16 587.68,62.69 586.63,63.74 586.10,65.31 586.10,66.36 586.63,67.93 587.68,68.98 588.74,69.50 590.32,69.50 591.37,68.98 592.42,67.93"/>
</g>
<rect x="123" y="689" width="750" height="31" fill="#f0f0f0"/>
<rect x="115.00" y="683.5" width="47.30" height="30.0" fill="#0a2864"/>
<rect x="161.80" y="683.5" width="47.30" height="30.0" fill="#2d5cc8"/>
<rect x="208.60" y="683.5" width="47.30" height="30.0" fill="#557be3"/>
<rect x="255.40" y="683.5" width="47.30" height="30.0" fill="#96acf0"/>
<rect x="302.20" y="683.5" width="47.30" height="30.0" fill="#bcc8f2"/>
<rect x="349.00" y="683.5" width="47.30" height="30.0" fill="#d2d5e1"/>
<rect x="395.80" y="683.5" width="47.30" height="30.0" fill="#e8dec5"/>
<rect x="442.60" y="683.5" width="47.30" height="30.0" fill="#f5dc9b"/>
<rect x="489.40" y="683.5" width="47.30" height="30.0" fill="#ffdc78"/>
<rect x="536.20" y="683.5" width="47.30" height="30.0" fill="#ffc846"/>
<rect x="583.00" y="683.5" width="47.30" height="30.0" fill="#ff963c"/>
<rect x="629.80" y="683.5" width="47.30" height="30.0" fill="#ff641e"/>
<rect x="676.60" y="683.5" width="47.30" height="30.0" fill="#f52823"/>
<rect x="723.40" y="683.5" width="47.30" height="30.0" fill="#d70000"/>
<rect x="770.20" y="683.5" width="47.30" height="30.0" fill="#a50000"/>
<rect x="817.00" y="683.5" width="47.30" height="30.0" fill="#af0078"/>
<rect x="115.5" y="683.5" width="749.0" height="30.0" fill="none" stroke="#000" stroke-width="1"/>
<line x1="115.5" y1="683.5" x2="115.5" y2="718" stroke="#000" stroke-width="1"/>
<g fill="none" stroke="#000" stroke-width="1" shape-rendering="crispEdges"><polyline points="116.51,719.47 113.16,724.15 118.18,724.15"/><polyline points="116.51,719.47 116.51,726.50"/></g>
<line x1="302.8" y1="683.5" x2="302.8" y2="718" stroke="#000" stroke-width="1"/>
<g fill="none" stroke="#000" stroke-width="1" shape-rendering="crispEdges"><polyline points="304.76,720.47 304.42,719.80 303.42,719.47 302.75,719.47 301.75,719.80 301.07,720.80 300.74,722.48 300.74,724.15 301.07,725.50 301.75,726.16 302.75,726.50 303.08,726.50 304.09,726.16 304.76,725.50 305.09,724.49 305.09,724.15 304.76,723.15 304.09,722.48 303.08,722.14 302.75,722.14 301.75,722.48 301.07,723.15 300.74,724.15"/></g>
<line x1="490.0" y1="683.5" x2="490.0" y2="718" stroke="#000" stroke-width="1"/>
<g fill="none" stroke="#000" stroke-width="1" shape-rendering="crispEdges"><polyline points="489.33,719.47 488.32,719.80 487.99,720.47 487.99,721.14 488.32,721.81 489.00,722.14 490.33,722.48 491.34,722.82 492.01,723.49 492.34,724.15 492.34,725.16 492.01,725.83 491.67,726.16 490.67,726.50 489.33,726.50 488.32,726.16 487.99,725.83 487.65,725.16 487.65,724.15 487.99,723.49 488.66,722.82 489.66,722.48 491.00,722.14 491.67,721.81 492.01,721.14 492.01,720.47 491.67,719.80 490.67,719.47 489.33,719.47"/></g>
<line x1="677.2" y1="683.5" x2="677.2" y2="718" stroke="#000" stroke-width="1"/>
<g fill="none" stroke="#000" stroke-width="1" shape-rendering="crispEdges"><polyline points="672.56,720.80 673.23,720.47 674.23,719.47 674.23,726.50"/><polyline points="680.26,719.47 679.26,719.80 678.59,720.80 678.25,722.48 678.25,723.49 678.59,725.16 679.26,726.16 680.26,726.50 680.93,726.50 681.94,726.16 682.61,725.16 682.95,723.49 682.95,722.48 682.61,720.80 681.94,719.80 680.93,719.47 680.26,719.47"/></g>
<line x1="864.5" y1="683.5" x2="864.5" y2="718" stroke="#000" stroke-width="1"/>
<g fill="none" stroke="#000" stroke-width="1" shape-rendering="crispEdges"><polyline points="859.81,720.80 860.48,720.47 861.48,719.47 861.48,726.50"/><polyline points="865.84,721.14 865.84,720.80 866.17,720.13 866.51,719.80 867.18,719.47 868.52,719.47 869.19,719.80 869.52,720.13 869.86,720.80 869.86,721.48 869.52,722.14 868.86,723.15 865.50,726.50 870.20,726.50"/></g>
<g fill="none" stroke="#000" stroke-width="1" shape-rendering="crispEdges">
<polygon points="427.5,732 429,730.5 430.5,730.5 431.5,732 430.5,733.5 429,733.5"/>
<polyline points="436.97,732.14 436.63,731.47 435.95,730.80 435.28,730.47 433.93,730.47 433.26,730.80 432.58,731.47 432.25,732.14 431.91,733.14 431.91,734.82 432.25,735.83 432.58,736.50 433.26,737.16 433.93,737.50 435.28,737.50 435.95,737.16 436.63,736.50 436.97,735.83"/><polyline points="450.11,732.14 450.11,731.80 450.45,731.13 450.78,730.80 451.46,730.47 452.80,730.47 453.48,730.80 453.82,731.13 454.15,731.80 454.15,732.48 453.82,733.14 453.14,734.15 449.77,737.50 454.49,737.50"/><polyline points="458.53,730.47 457.52,730.80 456.85,731.80 456.51,733.48 456.51,734.49 456.85,736.16 457.52,737.16 458.53,737.50 459.21,737.50 460.22,737.16 460.89,736.16 461.23,734.49 461.23,733.48 460.89,731.80 460.22,730.80 459.21,730.47 458.53,730.47"/><polyline points="463.59,732.14 463.59,731.80 463.93,731.13 464.26,730.80 464.94,730.47 466.28,730.47 466.96,730.80 467.30,731.13 467.63,731.80 467.63,732.48 467.30,733.14 466.62,734.15 463.25,737.50 467.97,737.50"/><polyline points="474.37,731.47 474.04,730.80 473.02,730.47 472.35,730.47 471.34,730.80 470.67,731.80 470.33,733.48 470.33,735.15 470.67,736.50 471.34,737.16 472.35,737.50 472.69,737.50 473.70,737.16 474.37,736.50 474.71,735.49 474.71,735.15 474.37,734.15 473.70,733.48 472.69,733.14 472.35,733.14 471.34,733.48 470.67,734.15 470.33,735.15"/><polyline points="482.46,729.12 476.39,739.85"/><polyline points="486.17,730.47 485.16,730.80 484.48,731.80 484.15,733.48 484.15,734.49 484.48,736.16 485.16,737.16 486.17,737.50 486.84,737.50 487.85,737.16 488.53,736.16 488.86,734.49 488.86,733.48 488.53,731.80 487.85,730.80 486.84,730.47 486.17,730.47"/><polyline points="494.26,730.47 490.89,735.15 495.94,735.15"/><polyline points="494.26,730.47 494.26,737.50"/><polyline points="503.36,729.12 497.29,739.85"/><polyline points="506.05,731.80 506.73,731.47 507.74,730.47 507.74,737.50"/><polyline points="516.16,732.81 515.82,733.82 515.15,734.49 514.14,734.82 513.80,734.82 512.79,734.49 512.12,733.82 511.78,732.81 511.78,732.48 512.12,731.47 512.79,730.80 513.80,730.47 514.14,730.47 515.15,730.80 515.82,731.47 516.16,732.81 516.16,734.49 515.82,736.16 515.15,737.16 514.14,737.50 513.47,737.50 512.45,737.16 512.12,736.50"/><polyline points="525.93,730.47 524.92,730.80 524.25,731.80 523.91,733.48 523.91,734.49 524.25,736.16 524.92,737.16 525.93,737.50 526.61,737.50 527.62,737.16 528.29,736.16 528.63,734.49 528.63,733.48 528.29,731.80 527.62,730.80 526.61,730.47 525.93,730.47"/><polyline points="535.03,731.47 534.70,730.80 533.69,730.47 533.01,730.47 532.00,730.80 531.33,731.80 530.99,733.48 530.99,735.15 531.33,736.50 532.00,737.16 533.01,737.50 533.35,737.50 534.36,737.16 535.03,736.50 535.37,735.49 535.37,735.15 535.03,734.15 534.36,733.48 533.35,733.14 533.01,733.14 532.00,733.48 531.33,734.15 530.99,735.15"/><polyline points="538.07,732.81 538.07,733.65"/><polyline points="538.07,736.66 538.07,737.50"/><polyline points="544.13,730.47 540.76,735.15 545.82,735.15"/><polyline points="544.13,730.47 544.13,737.50"/><polyline points="547.84,732.14 547.84,731.80 548.18,731.13 548.51,730.80 549.19,730.47 550.54,730.47 551.21,730.80 551.55,731.13 551.88,731.80 551.88,732.48 551.55,733.14 550.87,734.15 547.50,737.50 552.22,737.50"/>
</g>
</svg></body></html>
